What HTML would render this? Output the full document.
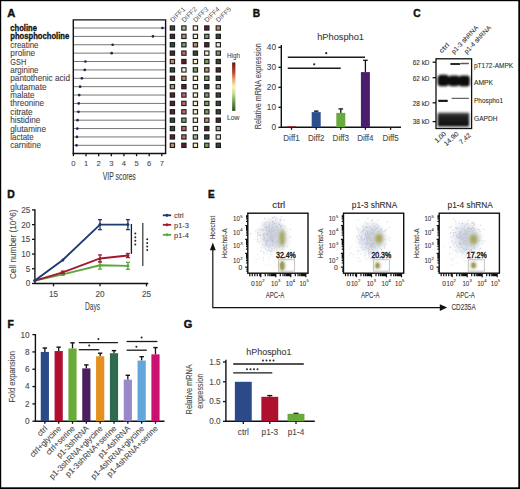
<!DOCTYPE html>
<html><head><meta charset="utf-8"><style>
html,body{margin:0;padding:0;background:#fff;}
body{width:520px;height:489px;overflow:hidden;}
svg{display:block;font-family:"Liberation Sans", sans-serif;}
</style></head><body>
<svg width="520" height="489" viewBox="0 0 520 489">
<rect x="0" y="0" width="520" height="489" fill="#fff"/>
<text x="7.30" y="16.70" font-size="11.2" fill="#111" font-weight="bold" stroke="#111" stroke-width="0.45" >A</text>
<text x="10.30" y="30.80" font-size="8.4" fill="#111" font-weight="bold" stroke="#111" stroke-width="0.3" textLength="26.6" lengthAdjust="spacingAndGlyphs" >choline</text>
<line x1="73.50" y1="28.00" x2="165.30" y2="28.00" stroke="#767676" stroke-width="1.0" />
<circle cx="162.44" cy="28.00" r="1.35" fill="#1e2a55"/>
<text x="10.30" y="39.18" font-size="8.4" fill="#111" font-weight="bold" stroke="#111" stroke-width="0.3" textLength="58.9" lengthAdjust="spacingAndGlyphs" >phosphocholine</text>
<line x1="73.50" y1="36.38" x2="165.30" y2="36.38" stroke="#767676" stroke-width="1.0" />
<circle cx="152.97" cy="36.38" r="1.35" fill="#1e2a55"/>
<text x="10.30" y="47.76" font-size="8.4" fill="#454545" stroke="#454545" stroke-width="0.1" textLength="28.2" lengthAdjust="spacingAndGlyphs" >creatine</text>
<line x1="73.50" y1="44.76" x2="165.30" y2="44.76" stroke="#767676" stroke-width="1.0" />
<circle cx="112.68" cy="44.76" r="1.35" fill="#1e2a55"/>
<text x="10.30" y="56.14" font-size="8.4" fill="#454545" stroke="#454545" stroke-width="0.1" textLength="24.8" lengthAdjust="spacingAndGlyphs" >proline</text>
<line x1="73.50" y1="53.14" x2="165.30" y2="53.14" stroke="#767676" stroke-width="1.0" />
<circle cx="111.67" cy="53.14" r="1.35" fill="#1e2a55"/>
<text x="10.30" y="64.52" font-size="8.4" fill="#454545" stroke="#454545" stroke-width="0.1" textLength="15.9" lengthAdjust="spacingAndGlyphs" >GSH</text>
<line x1="73.50" y1="61.52" x2="165.30" y2="61.52" stroke="#767676" stroke-width="1.0" />
<circle cx="85.40" cy="61.52" r="1.35" fill="#1e2a55"/>
<text x="10.30" y="72.90" font-size="8.4" fill="#454545" stroke="#454545" stroke-width="0.1" textLength="28.2" lengthAdjust="spacingAndGlyphs" >arginine</text>
<line x1="73.50" y1="69.90" x2="165.30" y2="69.90" stroke="#767676" stroke-width="1.0" />
<circle cx="84.77" cy="69.90" r="1.35" fill="#1e2a55"/>
<text x="10.30" y="81.28" font-size="8.4" fill="#454545" stroke="#454545" stroke-width="0.1" textLength="59.7" lengthAdjust="spacingAndGlyphs" >pantothenic acid</text>
<line x1="73.50" y1="78.28" x2="165.30" y2="78.28" stroke="#767676" stroke-width="1.0" />
<circle cx="81.86" cy="78.28" r="1.35" fill="#1e2a55"/>
<text x="10.30" y="89.66" font-size="8.4" fill="#454545" stroke="#454545" stroke-width="0.1" textLength="36.3" lengthAdjust="spacingAndGlyphs" >glutamate</text>
<line x1="73.50" y1="86.66" x2="165.30" y2="86.66" stroke="#767676" stroke-width="1.0" />
<circle cx="80.09" cy="86.66" r="1.35" fill="#1e2a55"/>
<text x="10.30" y="98.04" font-size="8.4" fill="#454545" stroke="#454545" stroke-width="0.1" textLength="24.1" lengthAdjust="spacingAndGlyphs" >malate</text>
<line x1="73.50" y1="95.04" x2="165.30" y2="95.04" stroke="#767676" stroke-width="1.0" />
<circle cx="79.21" cy="95.04" r="1.35" fill="#1e2a55"/>
<text x="10.30" y="106.42" font-size="8.4" fill="#454545" stroke="#454545" stroke-width="0.1" textLength="33.7" lengthAdjust="spacingAndGlyphs" >threonine</text>
<line x1="73.50" y1="103.42" x2="165.30" y2="103.42" stroke="#767676" stroke-width="1.0" />
<circle cx="78.70" cy="103.42" r="1.35" fill="#1e2a55"/>
<text x="10.30" y="114.80" font-size="8.4" fill="#454545" stroke="#454545" stroke-width="0.1" textLength="22.4" lengthAdjust="spacingAndGlyphs" >citrate</text>
<line x1="73.50" y1="111.80" x2="165.30" y2="111.80" stroke="#767676" stroke-width="1.0" />
<circle cx="78.45" cy="111.80" r="1.35" fill="#1e2a55"/>
<text x="10.30" y="123.18" font-size="8.4" fill="#454545" stroke="#454545" stroke-width="0.1" textLength="30.0" lengthAdjust="spacingAndGlyphs" >histidine</text>
<line x1="73.50" y1="120.18" x2="165.30" y2="120.18" stroke="#767676" stroke-width="1.0" />
<circle cx="77.57" cy="120.18" r="1.35" fill="#1e2a55"/>
<text x="10.30" y="131.56" font-size="8.4" fill="#454545" stroke="#454545" stroke-width="0.1" textLength="35.7" lengthAdjust="spacingAndGlyphs" >glutamine</text>
<line x1="73.50" y1="128.56" x2="165.30" y2="128.56" stroke="#767676" stroke-width="1.0" />
<circle cx="77.32" cy="128.56" r="1.35" fill="#1e2a55"/>
<text x="10.30" y="139.94" font-size="8.4" fill="#454545" stroke="#454545" stroke-width="0.1" textLength="23.4" lengthAdjust="spacingAndGlyphs" >lactate</text>
<line x1="73.50" y1="136.94" x2="165.30" y2="136.94" stroke="#767676" stroke-width="1.0" />
<circle cx="76.94" cy="136.94" r="1.35" fill="#1e2a55"/>
<text x="10.30" y="148.32" font-size="8.4" fill="#454545" stroke="#454545" stroke-width="0.1" textLength="30.6" lengthAdjust="spacingAndGlyphs" >carnitine</text>
<line x1="73.50" y1="145.32" x2="165.30" y2="145.32" stroke="#767676" stroke-width="1.0" />
<circle cx="76.56" cy="145.32" r="1.35" fill="#1e2a55"/>
<path d="M73.3 153.4 V19.9 H165.6 V153.4" fill="none" stroke="#111" stroke-width="1.4"/>
<line x1="72.60" y1="153.40" x2="166.30" y2="153.40" stroke="#111" stroke-width="1.5" />
<line x1="73.40" y1="153.40" x2="73.40" y2="156.20" stroke="#111" stroke-width="1.3" />
<text x="73.40" y="166.20" font-size="7.6" fill="#4a4a4a" stroke="#4a4a4a" stroke-width="0.1" text-anchor="middle" >0</text>
<line x1="86.03" y1="153.40" x2="86.03" y2="156.20" stroke="#111" stroke-width="1.3" />
<text x="86.03" y="166.20" font-size="7.6" fill="#4a4a4a" stroke="#4a4a4a" stroke-width="0.1" text-anchor="middle" >1</text>
<line x1="98.66" y1="153.40" x2="98.66" y2="156.20" stroke="#111" stroke-width="1.3" />
<text x="98.66" y="166.20" font-size="7.6" fill="#4a4a4a" stroke="#4a4a4a" stroke-width="0.1" text-anchor="middle" >2</text>
<line x1="111.29" y1="153.40" x2="111.29" y2="156.20" stroke="#111" stroke-width="1.3" />
<text x="111.29" y="166.20" font-size="7.6" fill="#4a4a4a" stroke="#4a4a4a" stroke-width="0.1" text-anchor="middle" >3</text>
<line x1="123.92" y1="153.40" x2="123.92" y2="156.20" stroke="#111" stroke-width="1.3" />
<text x="123.92" y="166.20" font-size="7.6" fill="#4a4a4a" stroke="#4a4a4a" stroke-width="0.1" text-anchor="middle" >4</text>
<line x1="136.55" y1="153.40" x2="136.55" y2="156.20" stroke="#111" stroke-width="1.3" />
<text x="136.55" y="166.20" font-size="7.6" fill="#4a4a4a" stroke="#4a4a4a" stroke-width="0.1" text-anchor="middle" >5</text>
<line x1="149.18" y1="153.40" x2="149.18" y2="156.20" stroke="#111" stroke-width="1.3" />
<text x="149.18" y="166.20" font-size="7.6" fill="#4a4a4a" stroke="#4a4a4a" stroke-width="0.1" text-anchor="middle" >6</text>
<line x1="161.81" y1="153.40" x2="161.81" y2="156.20" stroke="#111" stroke-width="1.3" />
<text x="161.81" y="166.20" font-size="7.6" fill="#4a4a4a" stroke="#4a4a4a" stroke-width="0.1" text-anchor="middle" >7</text>
<text x="102.80" y="179.60" font-size="10.0" fill="#3c3c3c" stroke="#3c3c3c" stroke-width="0.1" textLength="33.0" lengthAdjust="spacingAndGlyphs" >VIP scores</text>
<rect x="169.70" y="25.30" width="5.40" height="5.40" fill="#1c1c1c" />
<rect x="170.80" y="26.40" width="3.20" height="3.20" fill="#34473a" />
<rect x="181.20" y="25.30" width="5.40" height="5.40" fill="#1c1c1c" />
<rect x="182.30" y="26.40" width="3.20" height="3.20" fill="#a0b28a" />
<rect x="192.70" y="25.30" width="5.40" height="5.40" fill="#1c1c1c" />
<rect x="193.80" y="26.40" width="3.20" height="3.20" fill="#f4f0cc" />
<rect x="204.10" y="25.30" width="5.40" height="5.40" fill="#1c1c1c" />
<rect x="205.20" y="26.40" width="3.20" height="3.20" fill="#5e1e2e" />
<rect x="215.60" y="25.30" width="5.40" height="5.40" fill="#1c1c1c" />
<rect x="216.70" y="26.40" width="3.20" height="3.20" fill="#bc8c6c" />
<rect x="169.70" y="33.68" width="5.40" height="5.40" fill="#1c1c1c" />
<rect x="170.80" y="34.78" width="3.20" height="3.20" fill="#5e1e2e" />
<rect x="181.20" y="33.68" width="5.40" height="5.40" fill="#1c1c1c" />
<rect x="182.30" y="34.78" width="3.20" height="3.20" fill="#bc8c6c" />
<rect x="192.70" y="33.68" width="5.40" height="5.40" fill="#1c1c1c" />
<rect x="193.80" y="34.78" width="3.20" height="3.20" fill="#f4f0cc" />
<rect x="204.10" y="33.68" width="5.40" height="5.40" fill="#1c1c1c" />
<rect x="205.20" y="34.78" width="3.20" height="3.20" fill="#7a9e5e" />
<rect x="215.60" y="33.68" width="5.40" height="5.40" fill="#1c1c1c" />
<rect x="216.70" y="34.78" width="3.20" height="3.20" fill="#34473a" />
<rect x="169.70" y="42.06" width="5.40" height="5.40" fill="#1c1c1c" />
<rect x="170.80" y="43.16" width="3.20" height="3.20" fill="#34473a" />
<rect x="181.20" y="42.06" width="5.40" height="5.40" fill="#1c1c1c" />
<rect x="182.30" y="43.16" width="3.20" height="3.20" fill="#7a9e5e" />
<rect x="192.70" y="42.06" width="5.40" height="5.40" fill="#1c1c1c" />
<rect x="193.80" y="43.16" width="3.20" height="3.20" fill="#bc8c6c" />
<rect x="204.10" y="42.06" width="5.40" height="5.40" fill="#1c1c1c" />
<rect x="205.20" y="43.16" width="3.20" height="3.20" fill="#5e1e2e" />
<rect x="215.60" y="42.06" width="5.40" height="5.40" fill="#1c1c1c" />
<rect x="216.70" y="43.16" width="3.20" height="3.20" fill="#f4f0cc" />
<rect x="169.70" y="50.44" width="5.40" height="5.40" fill="#1c1c1c" />
<rect x="170.80" y="51.54" width="3.20" height="3.20" fill="#5e1e2e" />
<rect x="181.20" y="50.44" width="5.40" height="5.40" fill="#1c1c1c" />
<rect x="182.30" y="51.54" width="3.20" height="3.20" fill="#b86a6a" />
<rect x="192.70" y="50.44" width="5.40" height="5.40" fill="#1c1c1c" />
<rect x="193.80" y="51.54" width="3.20" height="3.20" fill="#34473a" />
<rect x="204.10" y="50.44" width="5.40" height="5.40" fill="#1c1c1c" />
<rect x="205.20" y="51.54" width="3.20" height="3.20" fill="#f4f0cc" />
<rect x="215.60" y="50.44" width="5.40" height="5.40" fill="#1c1c1c" />
<rect x="216.70" y="51.54" width="3.20" height="3.20" fill="#7a9e5e" />
<rect x="169.70" y="58.82" width="5.40" height="5.40" fill="#1c1c1c" />
<rect x="170.80" y="59.92" width="3.20" height="3.20" fill="#bc8c6c" />
<rect x="181.20" y="58.82" width="5.40" height="5.40" fill="#1c1c1c" />
<rect x="182.30" y="59.92" width="3.20" height="3.20" fill="#5e1e2e" />
<rect x="192.70" y="58.82" width="5.40" height="5.40" fill="#1c1c1c" />
<rect x="193.80" y="59.92" width="3.20" height="3.20" fill="#f4f0cc" />
<rect x="204.10" y="58.82" width="5.40" height="5.40" fill="#1c1c1c" />
<rect x="205.20" y="59.92" width="3.20" height="3.20" fill="#7a9e5e" />
<rect x="215.60" y="58.82" width="5.40" height="5.40" fill="#1c1c1c" />
<rect x="216.70" y="59.92" width="3.20" height="3.20" fill="#34473a" />
<rect x="169.70" y="67.20" width="5.40" height="5.40" fill="#1c1c1c" />
<rect x="170.80" y="68.30" width="3.20" height="3.20" fill="#34473a" />
<rect x="181.20" y="67.20" width="5.40" height="5.40" fill="#1c1c1c" />
<rect x="182.30" y="68.30" width="3.20" height="3.20" fill="#f4f0cc" />
<rect x="192.70" y="67.20" width="5.40" height="5.40" fill="#1c1c1c" />
<rect x="193.80" y="68.30" width="3.20" height="3.20" fill="#7a9e5e" />
<rect x="204.10" y="67.20" width="5.40" height="5.40" fill="#1c1c1c" />
<rect x="205.20" y="68.30" width="3.20" height="3.20" fill="#bc8c6c" />
<rect x="215.60" y="67.20" width="5.40" height="5.40" fill="#1c1c1c" />
<rect x="216.70" y="68.30" width="3.20" height="3.20" fill="#5e1e2e" />
<rect x="169.70" y="75.58" width="5.40" height="5.40" fill="#1c1c1c" />
<rect x="170.80" y="76.68" width="3.20" height="3.20" fill="#5e1e2e" />
<rect x="181.20" y="75.58" width="5.40" height="5.40" fill="#1c1c1c" />
<rect x="182.30" y="76.68" width="3.20" height="3.20" fill="#bc8c6c" />
<rect x="192.70" y="75.58" width="5.40" height="5.40" fill="#1c1c1c" />
<rect x="193.80" y="76.68" width="3.20" height="3.20" fill="#f4f0cc" />
<rect x="204.10" y="75.58" width="5.40" height="5.40" fill="#1c1c1c" />
<rect x="205.20" y="76.68" width="3.20" height="3.20" fill="#7a9e5e" />
<rect x="215.60" y="75.58" width="5.40" height="5.40" fill="#1c1c1c" />
<rect x="216.70" y="76.68" width="3.20" height="3.20" fill="#34473a" />
<rect x="169.70" y="83.96" width="5.40" height="5.40" fill="#1c1c1c" />
<rect x="170.80" y="85.06" width="3.20" height="3.20" fill="#bc8c6c" />
<rect x="181.20" y="83.96" width="5.40" height="5.40" fill="#1c1c1c" />
<rect x="182.30" y="85.06" width="3.20" height="3.20" fill="#5e1e2e" />
<rect x="192.70" y="83.96" width="5.40" height="5.40" fill="#1c1c1c" />
<rect x="193.80" y="85.06" width="3.20" height="3.20" fill="#f4f0cc" />
<rect x="204.10" y="83.96" width="5.40" height="5.40" fill="#1c1c1c" />
<rect x="205.20" y="85.06" width="3.20" height="3.20" fill="#34473a" />
<rect x="215.60" y="83.96" width="5.40" height="5.40" fill="#1c1c1c" />
<rect x="216.70" y="85.06" width="3.20" height="3.20" fill="#a0b28a" />
<rect x="169.70" y="92.34" width="5.40" height="5.40" fill="#1c1c1c" />
<rect x="170.80" y="93.44" width="3.20" height="3.20" fill="#5e1e2e" />
<rect x="181.20" y="92.34" width="5.40" height="5.40" fill="#1c1c1c" />
<rect x="182.30" y="93.44" width="3.20" height="3.20" fill="#b86a6a" />
<rect x="192.70" y="92.34" width="5.40" height="5.40" fill="#1c1c1c" />
<rect x="193.80" y="93.44" width="3.20" height="3.20" fill="#f4f0cc" />
<rect x="204.10" y="92.34" width="5.40" height="5.40" fill="#1c1c1c" />
<rect x="205.20" y="93.44" width="3.20" height="3.20" fill="#7a9e5e" />
<rect x="215.60" y="92.34" width="5.40" height="5.40" fill="#1c1c1c" />
<rect x="216.70" y="93.44" width="3.20" height="3.20" fill="#34473a" />
<rect x="169.70" y="100.72" width="5.40" height="5.40" fill="#1c1c1c" />
<rect x="170.80" y="101.82" width="3.20" height="3.20" fill="#5e1e2e" />
<rect x="181.20" y="100.72" width="5.40" height="5.40" fill="#1c1c1c" />
<rect x="182.30" y="101.82" width="3.20" height="3.20" fill="#b86a6a" />
<rect x="192.70" y="100.72" width="5.40" height="5.40" fill="#1c1c1c" />
<rect x="193.80" y="101.82" width="3.20" height="3.20" fill="#f4f0cc" />
<rect x="204.10" y="100.72" width="5.40" height="5.40" fill="#1c1c1c" />
<rect x="205.20" y="101.82" width="3.20" height="3.20" fill="#7a9e5e" />
<rect x="215.60" y="100.72" width="5.40" height="5.40" fill="#1c1c1c" />
<rect x="216.70" y="101.82" width="3.20" height="3.20" fill="#34473a" />
<rect x="169.70" y="109.10" width="5.40" height="5.40" fill="#1c1c1c" />
<rect x="170.80" y="110.20" width="3.20" height="3.20" fill="#5e1e2e" />
<rect x="181.20" y="109.10" width="5.40" height="5.40" fill="#1c1c1c" />
<rect x="182.30" y="110.20" width="3.20" height="3.20" fill="#b86a6a" />
<rect x="192.70" y="109.10" width="5.40" height="5.40" fill="#1c1c1c" />
<rect x="193.80" y="110.20" width="3.20" height="3.20" fill="#f4f0cc" />
<rect x="204.10" y="109.10" width="5.40" height="5.40" fill="#1c1c1c" />
<rect x="205.20" y="110.20" width="3.20" height="3.20" fill="#7a9e5e" />
<rect x="215.60" y="109.10" width="5.40" height="5.40" fill="#1c1c1c" />
<rect x="216.70" y="110.20" width="3.20" height="3.20" fill="#34473a" />
<rect x="169.70" y="117.48" width="5.40" height="5.40" fill="#1c1c1c" />
<rect x="170.80" y="118.58" width="3.20" height="3.20" fill="#34473a" />
<rect x="181.20" y="117.48" width="5.40" height="5.40" fill="#1c1c1c" />
<rect x="182.30" y="118.58" width="3.20" height="3.20" fill="#7a9e5e" />
<rect x="192.70" y="117.48" width="5.40" height="5.40" fill="#1c1c1c" />
<rect x="193.80" y="118.58" width="3.20" height="3.20" fill="#f4f0cc" />
<rect x="204.10" y="117.48" width="5.40" height="5.40" fill="#1c1c1c" />
<rect x="205.20" y="118.58" width="3.20" height="3.20" fill="#bc8c6c" />
<rect x="215.60" y="117.48" width="5.40" height="5.40" fill="#1c1c1c" />
<rect x="216.70" y="118.58" width="3.20" height="3.20" fill="#5e1e2e" />
<rect x="169.70" y="125.86" width="5.40" height="5.40" fill="#1c1c1c" />
<rect x="170.80" y="126.96" width="3.20" height="3.20" fill="#34473a" />
<rect x="181.20" y="125.86" width="5.40" height="5.40" fill="#1c1c1c" />
<rect x="182.30" y="126.96" width="3.20" height="3.20" fill="#b86a6a" />
<rect x="192.70" y="125.86" width="5.40" height="5.40" fill="#1c1c1c" />
<rect x="193.80" y="126.96" width="3.20" height="3.20" fill="#f4f0cc" />
<rect x="204.10" y="125.86" width="5.40" height="5.40" fill="#1c1c1c" />
<rect x="205.20" y="126.96" width="3.20" height="3.20" fill="#5e1e2e" />
<rect x="215.60" y="125.86" width="5.40" height="5.40" fill="#1c1c1c" />
<rect x="216.70" y="126.96" width="3.20" height="3.20" fill="#a0b28a" />
<rect x="169.70" y="134.24" width="5.40" height="5.40" fill="#1c1c1c" />
<rect x="170.80" y="135.34" width="3.20" height="3.20" fill="#5e1e2e" />
<rect x="181.20" y="134.24" width="5.40" height="5.40" fill="#1c1c1c" />
<rect x="182.30" y="135.34" width="3.20" height="3.20" fill="#b86a6a" />
<rect x="192.70" y="134.24" width="5.40" height="5.40" fill="#1c1c1c" />
<rect x="193.80" y="135.34" width="3.20" height="3.20" fill="#a0b28a" />
<rect x="204.10" y="134.24" width="5.40" height="5.40" fill="#1c1c1c" />
<rect x="205.20" y="135.34" width="3.20" height="3.20" fill="#34473a" />
<rect x="215.60" y="134.24" width="5.40" height="5.40" fill="#1c1c1c" />
<rect x="216.70" y="135.34" width="3.20" height="3.20" fill="#f4f0cc" />
<rect x="169.70" y="142.62" width="5.40" height="5.40" fill="#1c1c1c" />
<rect x="170.80" y="143.72" width="3.20" height="3.20" fill="#bc8c6c" />
<rect x="181.20" y="142.62" width="5.40" height="5.40" fill="#1c1c1c" />
<rect x="182.30" y="143.72" width="3.20" height="3.20" fill="#5e1e2e" />
<rect x="192.70" y="142.62" width="5.40" height="5.40" fill="#1c1c1c" />
<rect x="193.80" y="143.72" width="3.20" height="3.20" fill="#f4f0cc" />
<rect x="204.10" y="142.62" width="5.40" height="5.40" fill="#1c1c1c" />
<rect x="205.20" y="143.72" width="3.20" height="3.20" fill="#7a9e5e" />
<rect x="215.60" y="142.62" width="5.40" height="5.40" fill="#1c1c1c" />
<rect x="216.70" y="143.72" width="3.20" height="3.20" fill="#34473a" />
<text x="172.70" y="22.80" font-size="6.6" fill="#505050" textLength="18.5" lengthAdjust="spacingAndGlyphs" transform="rotate(-45 172.70 22.80)" >DIFF1</text>
<text x="184.20" y="22.80" font-size="6.6" fill="#505050" textLength="18.5" lengthAdjust="spacingAndGlyphs" transform="rotate(-45 184.20 22.80)" >DIFF2</text>
<text x="195.70" y="22.80" font-size="6.6" fill="#505050" textLength="18.5" lengthAdjust="spacingAndGlyphs" transform="rotate(-45 195.70 22.80)" >DIFF3</text>
<text x="207.10" y="22.80" font-size="6.6" fill="#505050" textLength="18.5" lengthAdjust="spacingAndGlyphs" transform="rotate(-45 207.10 22.80)" >DIFF4</text>
<text x="218.60" y="22.80" font-size="6.6" fill="#505050" textLength="18.5" lengthAdjust="spacingAndGlyphs" transform="rotate(-45 218.60 22.80)" >DIFF5</text>
<text x="227.00" y="57.90" font-size="7.2" fill="#4a4a4a" stroke="#4a4a4a" stroke-width="0.1" textLength="12.9" lengthAdjust="spacingAndGlyphs" >High</text>
<text x="227.00" y="119.60" font-size="7.2" fill="#4a4a4a" stroke="#4a4a4a" stroke-width="0.1" textLength="12.5" lengthAdjust="spacingAndGlyphs" >Low</text>
<defs><linearGradient id="hl" x1="0" y1="0" x2="0" y2="1"><stop offset="0" stop-color="#6e1414"/><stop offset="0.2" stop-color="#b8442a"/><stop offset="0.35" stop-color="#e8a870"/><stop offset="0.5" stop-color="#f8f2c0"/><stop offset="0.65" stop-color="#c8d890"/><stop offset="0.82" stop-color="#6a9a4a"/><stop offset="1" stop-color="#2c5030"/></linearGradient></defs>
<rect x="232.10" y="62.50" width="3.30" height="48.40" fill="url(#hl)" />
<text x="252.80" y="16.60" font-size="10.2" fill="#111" font-weight="bold" stroke="#111" stroke-width="0.45" >B</text>
<text x="317.20" y="39.50" font-size="9" fill="#3c3c3c" stroke="#3c3c3c" stroke-width="0.1" textLength="46.8" lengthAdjust="spacingAndGlyphs" >hPhospho1</text>
<line x1="281.30" y1="45.00" x2="281.30" y2="127.80" stroke="#111" stroke-width="1.4" />
<line x1="278.40" y1="127.30" x2="281.30" y2="127.30" stroke="#111" stroke-width="1.3" />
<text x="276.00" y="130.20" font-size="8.3" fill="#4a4a4a" stroke="#4a4a4a" stroke-width="0.1" text-anchor="end" >0</text>
<line x1="278.40" y1="107.30" x2="281.30" y2="107.30" stroke="#111" stroke-width="1.3" />
<text x="276.00" y="110.20" font-size="8.3" fill="#4a4a4a" stroke="#4a4a4a" stroke-width="0.1" text-anchor="end" >10</text>
<line x1="278.40" y1="87.30" x2="281.30" y2="87.30" stroke="#111" stroke-width="1.3" />
<text x="276.00" y="90.20" font-size="8.3" fill="#4a4a4a" stroke="#4a4a4a" stroke-width="0.1" text-anchor="end" >20</text>
<line x1="278.40" y1="67.30" x2="281.30" y2="67.30" stroke="#111" stroke-width="1.3" />
<text x="276.00" y="70.20" font-size="8.3" fill="#4a4a4a" stroke="#4a4a4a" stroke-width="0.1" text-anchor="end" >30</text>
<line x1="278.40" y1="47.30" x2="281.30" y2="47.30" stroke="#111" stroke-width="1.3" />
<text x="276.00" y="50.20" font-size="8.3" fill="#4a4a4a" stroke="#4a4a4a" stroke-width="0.1" text-anchor="end" >40</text>
<line x1="280.80" y1="127.30" x2="401.00" y2="127.30" stroke="#111" stroke-width="1.5" />
<text x="260.70" y="86.30" font-size="8.5" fill="#4a4a4a" stroke="#4a4a4a" stroke-width="0.1" text-anchor="middle" textLength="86.0" lengthAdjust="spacingAndGlyphs" transform="rotate(-90 260.70 86.30)" >Relative mRNA expression</text>
<rect x="287.00" y="126.30" width="9.00" height="1.00" fill="#a3182c" />
<line x1="291.50" y1="127.30" x2="291.50" y2="129.80" stroke="#111" stroke-width="1.3" />
<text x="291.50" y="140.70" font-size="8.9" fill="#4a4a4a" stroke="#4a4a4a" stroke-width="0.1" text-anchor="middle" textLength="16.4" lengthAdjust="spacingAndGlyphs" >Diff1</text>
<line x1="316.20" y1="111.10" x2="316.20" y2="112.10" stroke="#111" stroke-width="1.3" />
<line x1="313.90" y1="111.10" x2="318.50" y2="111.10" stroke="#111" stroke-width="1.3" />
<rect x="311.70" y="112.10" width="9.00" height="15.20" fill="#2d4f8c" />
<line x1="316.20" y1="127.30" x2="316.20" y2="129.80" stroke="#111" stroke-width="1.3" />
<text x="316.20" y="140.70" font-size="8.9" fill="#4a4a4a" stroke="#4a4a4a" stroke-width="0.1" text-anchor="middle" textLength="16.4" lengthAdjust="spacingAndGlyphs" >Diff2</text>
<line x1="340.80" y1="108.90" x2="340.80" y2="112.90" stroke="#111" stroke-width="1.3" />
<line x1="338.50" y1="108.90" x2="343.10" y2="108.90" stroke="#111" stroke-width="1.3" />
<rect x="336.30" y="112.90" width="9.00" height="14.40" fill="#6aaa3c" />
<line x1="340.80" y1="127.30" x2="340.80" y2="129.80" stroke="#111" stroke-width="1.3" />
<text x="340.80" y="140.70" font-size="8.9" fill="#4a4a4a" stroke="#4a4a4a" stroke-width="0.1" text-anchor="middle" textLength="16.4" lengthAdjust="spacingAndGlyphs" >Diff3</text>
<line x1="365.40" y1="60.30" x2="365.40" y2="72.10" stroke="#111" stroke-width="1.3" />
<line x1="363.10" y1="60.30" x2="367.70" y2="60.30" stroke="#111" stroke-width="1.3" />
<rect x="360.90" y="72.10" width="9.00" height="55.20" fill="#4a1e6c" />
<line x1="365.40" y1="127.30" x2="365.40" y2="129.80" stroke="#111" stroke-width="1.3" />
<text x="365.40" y="140.70" font-size="8.9" fill="#4a4a4a" stroke="#4a4a4a" stroke-width="0.1" text-anchor="middle" textLength="16.4" lengthAdjust="spacingAndGlyphs" >Diff4</text>
<rect x="386.10" y="127.20" width="9.00" height="0.10" fill="#777" />
<line x1="390.60" y1="127.30" x2="390.60" y2="129.80" stroke="#111" stroke-width="1.3" />
<text x="390.60" y="140.70" font-size="8.9" fill="#4a4a4a" stroke="#4a4a4a" stroke-width="0.1" text-anchor="middle" textLength="16.4" lengthAdjust="spacingAndGlyphs" >Diff5</text>
<line x1="287.80" y1="57.20" x2="365.00" y2="57.20" stroke="#1a1a1a" stroke-width="1.4" />
<line x1="287.80" y1="68.20" x2="340.70" y2="68.20" stroke="#1a1a1a" stroke-width="1.4" />
<circle cx="326.2" cy="53.2" r="1.1" fill="#222"/>
<circle cx="314.2" cy="64.3" r="1.1" fill="#222"/>
<text x="413.20" y="17.20" font-size="10.2" fill="#111" font-weight="bold" stroke="#111" stroke-width="0.45" >C</text>
<defs><filter id="bl" x="-20%" y="-50%" width="140%" height="200%"><feGaussianBlur stdDeviation="0.9"/></filter><filter id="bl2" x="-20%" y="-50%" width="140%" height="200%"><feGaussianBlur stdDeviation="0.5"/></filter><filter id="bl3" x="-50%" y="-50%" width="200%" height="200%"><feGaussianBlur stdDeviation="2.5"/></filter><linearGradient id="gap" x1="0" y1="0" x2="0" y2="1"><stop offset="0" stop-color="#6a6a6a"/><stop offset="0.2" stop-color="#262626"/><stop offset="1" stop-color="#0c0c0c"/></linearGradient></defs>
<g filter="url(#bl2)">
<rect x="450.2" y="62.9" width="10.2" height="2.0" rx="1.0" fill="#2a2a2a"/>
<rect x="460.2" y="62.7" width="8.8" height="1.6" rx="0.8" fill="#5a5a5a"/>
<rect x="438" y="99.7" width="10" height="2.2" rx="1.1" fill="#1e1e1e"/>
<rect x="451.5" y="97.7" width="17.5" height="1.4" rx="0.7" fill="#666"/>
</g>
<g filter="url(#bl)">
<rect x="437.6" y="74.8" width="11.4" height="11.4" rx="3.5" fill="#0a0a0a"/>
<rect x="448.6" y="75.6" width="10.8" height="10.6" rx="3" fill="#0e0e0e"/>
<rect x="458.8" y="75.6" width="11" height="11" rx="3" fill="#101010"/>
<rect x="437.6" y="112.4" width="31.6" height="14.2" rx="1" fill="url(#gap)"/>
</g>
<rect x="436" y="58.8" width="35.6" height="69.7" fill="none" stroke="#111" stroke-width="1.3"/>
<line x1="432.60" y1="62.20" x2="436.00" y2="62.20" stroke="#111" stroke-width="1.3" />
<text x="429.50" y="65.00" font-size="8.0" fill="#2e2e2e" stroke="#2e2e2e" stroke-width="0.1" text-anchor="end" textLength="16.8" lengthAdjust="spacingAndGlyphs" >62 kD</text>
<line x1="432.60" y1="77.70" x2="436.00" y2="77.70" stroke="#111" stroke-width="1.3" />
<text x="429.50" y="80.50" font-size="8.0" fill="#2e2e2e" stroke="#2e2e2e" stroke-width="0.1" text-anchor="end" textLength="16.8" lengthAdjust="spacingAndGlyphs" >62 kD</text>
<line x1="432.60" y1="102.80" x2="436.00" y2="102.80" stroke="#111" stroke-width="1.3" />
<text x="429.50" y="105.60" font-size="8.0" fill="#2e2e2e" stroke="#2e2e2e" stroke-width="0.1" text-anchor="end" textLength="16.8" lengthAdjust="spacingAndGlyphs" >28 kD</text>
<line x1="432.60" y1="121.60" x2="436.00" y2="121.60" stroke="#111" stroke-width="1.3" />
<text x="429.50" y="124.40" font-size="8.0" fill="#2e2e2e" stroke="#2e2e2e" stroke-width="0.1" text-anchor="end" textLength="16.8" lengthAdjust="spacingAndGlyphs" >38 kD</text>
<text x="474.00" y="67.90" font-size="8.0" fill="#2e2e2e" stroke="#2e2e2e" stroke-width="0.1" textLength="39.1" lengthAdjust="spacingAndGlyphs" >pT172-AMPK</text>
<text x="474.00" y="85.20" font-size="8.0" fill="#2e2e2e" stroke="#2e2e2e" stroke-width="0.1" textLength="19" lengthAdjust="spacingAndGlyphs" >AMPK</text>
<text x="474.00" y="102.60" font-size="8.0" fill="#2e2e2e" stroke="#2e2e2e" stroke-width="0.1" textLength="29" lengthAdjust="spacingAndGlyphs" >Phospho1</text>
<text x="474.00" y="120.60" font-size="8.0" fill="#2e2e2e" stroke="#2e2e2e" stroke-width="0.1" textLength="23.6" lengthAdjust="spacingAndGlyphs" >GAPDH</text>
<text x="441.80" y="53.60" font-size="6.6" fill="#383838" stroke="#383838" stroke-width="0.1" textLength="11.5" lengthAdjust="spacingAndGlyphs" transform="rotate(-46.5 441.80 53.60)" >ctrl</text>
<text x="453.90" y="54.20" font-size="6.6" fill="#383838" stroke="#383838" stroke-width="0.1" textLength="36" lengthAdjust="spacingAndGlyphs" transform="rotate(-46.5 453.90 54.20)" >p1-3 shRNA</text>
<text x="466.70" y="54.20" font-size="6.6" fill="#383838" stroke="#383838" stroke-width="0.1" textLength="36" lengthAdjust="spacingAndGlyphs" transform="rotate(-46.5 466.70 54.20)" >p1-4 shRNA</text>
<text x="436.90" y="143.30" font-size="6.6" fill="#383838" stroke="#383838" stroke-width="0.1" textLength="13.0" lengthAdjust="spacingAndGlyphs" transform="rotate(-42 436.90 143.30)" >1.00</text>
<text x="446.20" y="146.30" font-size="6.6" fill="#383838" stroke="#383838" stroke-width="0.1" textLength="17.4" lengthAdjust="spacingAndGlyphs" transform="rotate(-42 446.20 146.30)" >14.90</text>
<text x="461.60" y="144.80" font-size="6.6" fill="#383838" stroke="#383838" stroke-width="0.1" textLength="13.2" lengthAdjust="spacingAndGlyphs" transform="rotate(-42 461.60 144.80)" >7.42</text>
<text x="7.20" y="198.00" font-size="10.4" fill="#111" font-weight="bold" stroke="#111" stroke-width="0.45" >D</text>
<line x1="34.90" y1="209.20" x2="34.90" y2="284.10" stroke="#111" stroke-width="1.4" />
<line x1="32.00" y1="283.50" x2="34.90" y2="283.50" stroke="#111" stroke-width="1.3" />
<text x="30.40" y="286.40" font-size="8.2" fill="#4a4a4a" stroke="#4a4a4a" stroke-width="0.1" text-anchor="end" >0</text>
<line x1="32.00" y1="268.78" x2="34.90" y2="268.78" stroke="#111" stroke-width="1.3" />
<text x="30.40" y="271.68" font-size="8.2" fill="#4a4a4a" stroke="#4a4a4a" stroke-width="0.1" text-anchor="end" >5</text>
<line x1="32.00" y1="254.06" x2="34.90" y2="254.06" stroke="#111" stroke-width="1.3" />
<text x="30.40" y="256.96" font-size="8.2" fill="#4a4a4a" stroke="#4a4a4a" stroke-width="0.1" text-anchor="end" >10</text>
<line x1="32.00" y1="239.34" x2="34.90" y2="239.34" stroke="#111" stroke-width="1.3" />
<text x="30.40" y="242.24" font-size="8.2" fill="#4a4a4a" stroke="#4a4a4a" stroke-width="0.1" text-anchor="end" >15</text>
<line x1="32.00" y1="224.62" x2="34.90" y2="224.62" stroke="#111" stroke-width="1.3" />
<text x="30.40" y="227.52" font-size="8.2" fill="#4a4a4a" stroke="#4a4a4a" stroke-width="0.1" text-anchor="end" >20</text>
<line x1="32.00" y1="209.90" x2="34.90" y2="209.90" stroke="#111" stroke-width="1.3" />
<text x="30.40" y="212.80" font-size="8.2" fill="#4a4a4a" stroke="#4a4a4a" stroke-width="0.1" text-anchor="end" >25</text>
<line x1="34.30" y1="283.50" x2="148.30" y2="283.50" stroke="#111" stroke-width="1.5" />
<line x1="53.50" y1="283.50" x2="53.50" y2="286.30" stroke="#111" stroke-width="1.3" />
<text x="53.50" y="297.00" font-size="8.2" fill="#4a4a4a" stroke="#4a4a4a" stroke-width="0.1" text-anchor="middle" >15</text>
<line x1="100.00" y1="283.50" x2="100.00" y2="286.30" stroke="#111" stroke-width="1.3" />
<text x="100.00" y="297.00" font-size="8.2" fill="#4a4a4a" stroke="#4a4a4a" stroke-width="0.1" text-anchor="middle" >20</text>
<line x1="146.50" y1="283.50" x2="146.50" y2="286.30" stroke="#111" stroke-width="1.3" />
<text x="146.50" y="297.00" font-size="8.2" fill="#4a4a4a" stroke="#4a4a4a" stroke-width="0.1" text-anchor="middle" >25</text>
<text x="92.60" y="309.70" font-size="10.8" fill="#4a4a4a" stroke="#4a4a4a" stroke-width="0.1" text-anchor="middle" textLength="15.2" lengthAdjust="spacingAndGlyphs" >Days</text>
<text x="15.60" y="244.20" font-size="8.2" fill="#4a4a4a" stroke="#4a4a4a" stroke-width="0.1" text-anchor="middle" textLength="69.5" lengthAdjust="spacingAndGlyphs" transform="rotate(-90 15.60 244.20)" >Cell number (10^6)</text>
<path d="M34.90 280.56 L62.80 274.37 L100.00 265.25 L127.90 265.84" fill="none" stroke="#5aa83c" stroke-width="1.9"/>
<circle cx="34.90" cy="280.56" r="1.5" fill="#5aa83c"/>
<line x1="62.80" y1="273.49" x2="62.80" y2="275.26" stroke="#5aa83c" stroke-width="1.3" />
<line x1="60.80" y1="273.49" x2="64.80" y2="273.49" stroke="#5aa83c" stroke-width="1.3" />
<line x1="60.80" y1="275.26" x2="64.80" y2="275.26" stroke="#5aa83c" stroke-width="1.3" />
<circle cx="62.80" cy="274.37" r="1.5" fill="#5aa83c"/>
<line x1="100.00" y1="261.42" x2="100.00" y2="269.07" stroke="#5aa83c" stroke-width="1.3" />
<line x1="98.00" y1="261.42" x2="102.00" y2="261.42" stroke="#5aa83c" stroke-width="1.3" />
<line x1="98.00" y1="269.07" x2="102.00" y2="269.07" stroke="#5aa83c" stroke-width="1.3" />
<circle cx="100.00" cy="265.25" r="1.5" fill="#5aa83c"/>
<line x1="127.90" y1="262.30" x2="127.90" y2="269.37" stroke="#5aa83c" stroke-width="1.3" />
<line x1="125.90" y1="262.30" x2="129.90" y2="262.30" stroke="#5aa83c" stroke-width="1.3" />
<line x1="125.90" y1="269.37" x2="129.90" y2="269.37" stroke="#5aa83c" stroke-width="1.3" />
<circle cx="127.90" cy="265.84" r="1.5" fill="#5aa83c"/>
<path d="M34.90 280.56 L62.80 272.31 L100.00 258.48 L127.90 255.53" fill="none" stroke="#a21a30" stroke-width="1.9"/>
<circle cx="34.90" cy="280.56" r="1.5" fill="#a21a30"/>
<line x1="62.80" y1="271.14" x2="62.80" y2="273.49" stroke="#a21a30" stroke-width="1.3" />
<line x1="60.80" y1="271.14" x2="64.80" y2="271.14" stroke="#a21a30" stroke-width="1.3" />
<line x1="60.80" y1="273.49" x2="64.80" y2="273.49" stroke="#a21a30" stroke-width="1.3" />
<circle cx="62.80" cy="272.31" r="1.5" fill="#a21a30"/>
<line x1="100.00" y1="254.94" x2="100.00" y2="262.01" stroke="#a21a30" stroke-width="1.3" />
<line x1="98.00" y1="254.94" x2="102.00" y2="254.94" stroke="#a21a30" stroke-width="1.3" />
<line x1="98.00" y1="262.01" x2="102.00" y2="262.01" stroke="#a21a30" stroke-width="1.3" />
<circle cx="100.00" cy="258.48" r="1.5" fill="#a21a30"/>
<line x1="127.90" y1="253.47" x2="127.90" y2="257.59" stroke="#a21a30" stroke-width="1.3" />
<line x1="125.90" y1="253.47" x2="129.90" y2="253.47" stroke="#a21a30" stroke-width="1.3" />
<line x1="125.90" y1="257.59" x2="129.90" y2="257.59" stroke="#a21a30" stroke-width="1.3" />
<circle cx="127.90" cy="255.53" r="1.5" fill="#a21a30"/>
<path d="M34.90 280.56 L62.80 259.95 L100.00 224.62 L127.90 224.62" fill="none" stroke="#1f3a6e" stroke-width="1.9"/>
<circle cx="34.90" cy="280.56" r="1.5" fill="#1f3a6e"/>
<circle cx="62.80" cy="259.95" r="1.5" fill="#1f3a6e"/>
<line x1="100.00" y1="219.62" x2="100.00" y2="229.62" stroke="#1f3a6e" stroke-width="1.3" />
<line x1="98.00" y1="219.62" x2="102.00" y2="219.62" stroke="#1f3a6e" stroke-width="1.3" />
<line x1="98.00" y1="229.62" x2="102.00" y2="229.62" stroke="#1f3a6e" stroke-width="1.3" />
<circle cx="100.00" cy="224.62" r="1.5" fill="#1f3a6e"/>
<line x1="127.90" y1="219.62" x2="127.90" y2="229.62" stroke="#1f3a6e" stroke-width="1.3" />
<line x1="125.90" y1="219.62" x2="129.90" y2="219.62" stroke="#1f3a6e" stroke-width="1.3" />
<line x1="125.90" y1="229.62" x2="129.90" y2="229.62" stroke="#1f3a6e" stroke-width="1.3" />
<circle cx="127.90" cy="224.62" r="1.5" fill="#1f3a6e"/>
<line x1="131.40" y1="224.00" x2="131.40" y2="253.80" stroke="#1a1a2a" stroke-width="1.3" />
<line x1="142.80" y1="222.90" x2="142.80" y2="266.10" stroke="#444" stroke-width="1.3" />
<circle cx="135.3" cy="233.60" r="1.0" fill="#2a2a2a"/>
<circle cx="147.2" cy="239.30" r="1.0" fill="#2a2a2a"/>
<circle cx="135.3" cy="237.20" r="1.0" fill="#2a2a2a"/>
<circle cx="147.2" cy="242.90" r="1.0" fill="#2a2a2a"/>
<circle cx="135.3" cy="240.80" r="1.0" fill="#2a2a2a"/>
<circle cx="147.2" cy="246.50" r="1.0" fill="#2a2a2a"/>
<circle cx="135.3" cy="244.40" r="1.0" fill="#2a2a2a"/>
<circle cx="147.2" cy="250.10" r="1.0" fill="#2a2a2a"/>
<line x1="162.80" y1="215.30" x2="171.20" y2="215.30" stroke="#1f3a6e" stroke-width="1.8" />
<circle cx="167" cy="215.3" r="1.5" fill="#1f3a6e"/>
<text x="174.00" y="218.10" font-size="8.0" fill="#3c3c3c" stroke="#3c3c3c" stroke-width="0.1" textLength="9.7" lengthAdjust="spacingAndGlyphs" >ctrl</text>
<line x1="162.80" y1="224.80" x2="171.20" y2="224.80" stroke="#a21a30" stroke-width="1.8" />
<circle cx="167" cy="224.8" r="1.5" fill="#a21a30"/>
<text x="174.00" y="227.60" font-size="8.0" fill="#3c3c3c" stroke="#3c3c3c" stroke-width="0.1" textLength="14.9" lengthAdjust="spacingAndGlyphs" >p1-3</text>
<line x1="162.80" y1="234.80" x2="171.20" y2="234.80" stroke="#5aa83c" stroke-width="1.8" />
<circle cx="167" cy="234.8" r="1.5" fill="#5aa83c"/>
<text x="174.00" y="237.60" font-size="8.0" fill="#3c3c3c" stroke="#3c3c3c" stroke-width="0.1" textLength="14.9" lengthAdjust="spacingAndGlyphs" >p1-4</text>
<text x="208.00" y="197.80" font-size="10.0" fill="#111" font-weight="bold" stroke="#111" stroke-width="0.45" >E</text>
<path d="M212.8 248 V307.6 H444" fill="none" stroke="#111" stroke-width="1.2"/>
<path d="M212.8 242.6 L209.9 250.2 L215.7 250.2 Z" fill="#111"/>
<path d="M447.2 307.6 L439.8 304.2 L439.8 311.0 Z" fill="#111"/>
<text x="215.20" y="227.50" font-size="7.8" fill="#3c3c3c" stroke="#3c3c3c" stroke-width="0.1" text-anchor="middle" textLength="23.6" lengthAdjust="spacingAndGlyphs" transform="rotate(-90 215.20 227.50)" >Hoechst</text>
<text x="451.40" y="310.30" font-size="8.4" fill="#3c3c3c" stroke="#3c3c3c" stroke-width="0.1" textLength="24.3" lengthAdjust="spacingAndGlyphs" >CD235A</text>
<ellipse cx="272.0" cy="234.5" rx="12.3" ry="16.1" fill="#e6e8f0" filter="url(#bl3)"/>
<ellipse cx="273.0" cy="234.5" rx="7.2" ry="11.1" fill="#d2d6e2" filter="url(#bl3)"/>
<g opacity="0.75"><rect x="270.3" y="239.1" width="1" height="1" fill="#aeb4d0"/><rect x="284.1" y="239.4" width="1" height="1" fill="#b2b8d4"/><rect x="270.4" y="236.8" width="1" height="1" fill="#c0c6cc"/><rect x="272.6" y="238.2" width="1" height="1" fill="#b4bac8"/><rect x="274.7" y="236.2" width="1" height="1" fill="#b4bac8"/><rect x="280.2" y="238.7" width="1" height="1" fill="#bcc0d8"/><rect x="265.8" y="225.9" width="1" height="1" fill="#b2b8d4"/><rect x="265.9" y="230.3" width="1" height="1" fill="#bcc0d8"/><rect x="284.9" y="239.6" width="1" height="1" fill="#a8aecc"/><rect x="264.6" y="239.9" width="1" height="1" fill="#c0c6cc"/><rect x="267.5" y="249.8" width="1" height="1" fill="#bcc0d8"/><rect x="279.1" y="241.5" width="1" height="1" fill="#bcc0d8"/><rect x="266.0" y="242.6" width="1" height="1" fill="#b2b8d4"/><rect x="263.3" y="229.6" width="1" height="1" fill="#b4bac8"/><rect x="268.9" y="226.0" width="1" height="1" fill="#a8aecc"/><rect x="256.9" y="238.8" width="1" height="1" fill="#a8aecc"/><rect x="268.3" y="249.6" width="1" height="1" fill="#aeb4d0"/><rect x="272.5" y="230.9" width="1" height="1" fill="#a8aecc"/><rect x="258.3" y="231.6" width="1" height="1" fill="#aeb4d0"/><rect x="263.1" y="238.4" width="1" height="1" fill="#b2b8d4"/><rect x="277.2" y="240.8" width="1" height="1" fill="#b8c0b8"/><rect x="263.3" y="251.9" width="1" height="1" fill="#b4bac8"/><rect x="281.8" y="237.7" width="1" height="1" fill="#b8c0b8"/><rect x="260.8" y="228.9" width="1" height="1" fill="#b8c0b8"/><rect x="267.9" y="247.2" width="1" height="1" fill="#c0c6cc"/><rect x="259.8" y="234.8" width="1" height="1" fill="#b2b8d4"/><rect x="280.8" y="216.4" width="1" height="1" fill="#b4bac8"/><rect x="271.2" y="231.4" width="1" height="1" fill="#aeb4d0"/><rect x="269.0" y="222.2" width="1" height="1" fill="#aeb4d0"/><rect x="274.4" y="227.9" width="1" height="1" fill="#b4bac8"/><rect x="276.8" y="229.1" width="1" height="1" fill="#b4bac8"/><rect x="266.2" y="244.2" width="1" height="1" fill="#b4bac8"/><rect x="282.9" y="240.0" width="1" height="1" fill="#bcc0d8"/><rect x="271.5" y="225.5" width="1" height="1" fill="#b8c0b8"/><rect x="267.9" y="234.6" width="1" height="1" fill="#b4bac8"/><rect x="258.5" y="228.8" width="1" height="1" fill="#b8c0b8"/><rect x="264.2" y="239.3" width="1" height="1" fill="#aeb4d0"/><rect x="266.5" y="238.8" width="1" height="1" fill="#b4bac8"/><rect x="275.8" y="233.2" width="1" height="1" fill="#bcc0d8"/><rect x="277.8" y="245.1" width="1" height="1" fill="#b2b8d4"/><rect x="262.9" y="235.6" width="1" height="1" fill="#a8aecc"/><rect x="271.2" y="239.4" width="1" height="1" fill="#c0c6cc"/><rect x="266.0" y="242.9" width="1" height="1" fill="#bcc0d8"/><rect x="269.0" y="224.5" width="1" height="1" fill="#c0c6cc"/><rect x="265.7" y="222.4" width="1" height="1" fill="#b4bac8"/><rect x="281.6" y="225.3" width="1" height="1" fill="#b8c0b8"/><rect x="268.3" y="224.1" width="1" height="1" fill="#b4bac8"/><rect x="269.4" y="237.0" width="1" height="1" fill="#aeb4d0"/><rect x="268.4" y="237.9" width="1" height="1" fill="#bcc0d8"/><rect x="268.9" y="236.1" width="1" height="1" fill="#c0c6cc"/><rect x="272.1" y="234.6" width="1" height="1" fill="#bcc0d8"/><rect x="255.8" y="229.5" width="1" height="1" fill="#c0c6cc"/><rect x="285.7" y="237.4" width="1" height="1" fill="#c0c6cc"/><rect x="265.1" y="243.4" width="1" height="1" fill="#a8aecc"/><rect x="265.8" y="228.4" width="1" height="1" fill="#b2b8d4"/><rect x="264.3" y="236.7" width="1" height="1" fill="#b2b8d4"/><rect x="279.0" y="246.2" width="1" height="1" fill="#aeb4d0"/><rect x="270.8" y="251.2" width="1" height="1" fill="#bcc0d8"/><rect x="267.4" y="233.9" width="1" height="1" fill="#c0c6cc"/><rect x="265.3" y="244.9" width="1" height="1" fill="#b2b8d4"/><rect x="272.3" y="227.0" width="1" height="1" fill="#aeb4d0"/><rect x="278.9" y="224.1" width="1" height="1" fill="#a8aecc"/><rect x="257.2" y="232.3" width="1" height="1" fill="#a8aecc"/><rect x="273.2" y="223.6" width="1" height="1" fill="#b8c0b8"/><rect x="262.3" y="234.3" width="1" height="1" fill="#c0c6cc"/><rect x="279.4" y="221.6" width="1" height="1" fill="#b8c0b8"/><rect x="262.0" y="243.9" width="1" height="1" fill="#bcc0d8"/><rect x="265.6" y="233.6" width="1" height="1" fill="#b2b8d4"/><rect x="284.0" y="233.5" width="1" height="1" fill="#b4bac8"/><rect x="271.4" y="248.2" width="1" height="1" fill="#a8aecc"/><rect x="256.8" y="241.3" width="1" height="1" fill="#a8aecc"/><rect x="278.2" y="232.1" width="1" height="1" fill="#bcc0d8"/><rect x="278.2" y="240.5" width="1" height="1" fill="#a8aecc"/><rect x="274.7" y="246.5" width="1" height="1" fill="#c0c6cc"/><rect x="276.2" y="225.9" width="1" height="1" fill="#aeb4d0"/><rect x="266.5" y="245.1" width="1" height="1" fill="#b8c0b8"/><rect x="264.0" y="217.9" width="1" height="1" fill="#b8c0b8"/><rect x="270.9" y="228.7" width="1" height="1" fill="#bcc0d8"/><rect x="263.1" y="239.6" width="1" height="1" fill="#b2b8d4"/><rect x="266.5" y="240.0" width="1" height="1" fill="#b2b8d4"/><rect x="271.3" y="229.1" width="1" height="1" fill="#bcc0d8"/><rect x="281.0" y="236.6" width="1" height="1" fill="#b4bac8"/><rect x="273.3" y="229.8" width="1" height="1" fill="#b8c0b8"/><rect x="265.6" y="228.8" width="1" height="1" fill="#a8aecc"/><rect x="276.8" y="243.8" width="1" height="1" fill="#b2b8d4"/><rect x="290.1" y="236.6" width="1" height="1" fill="#aeb4d0"/><rect x="281.1" y="243.4" width="1" height="1" fill="#bcc0d8"/><rect x="259.3" y="241.8" width="1" height="1" fill="#b8c0b8"/><rect x="273.1" y="233.0" width="1" height="1" fill="#bcc0d8"/><rect x="270.6" y="240.9" width="1" height="1" fill="#c0c6cc"/><rect x="268.1" y="244.4" width="1" height="1" fill="#b8c0b8"/><rect x="282.2" y="248.9" width="1" height="1" fill="#a8aecc"/><rect x="280.1" y="226.6" width="1" height="1" fill="#b8c0b8"/><rect x="277.9" y="229.2" width="1" height="1" fill="#c0c6cc"/><rect x="274.7" y="238.3" width="1" height="1" fill="#c0c6cc"/><rect x="279.3" y="235.6" width="1" height="1" fill="#bcc0d8"/><rect x="262.8" y="224.8" width="1" height="1" fill="#bcc0d8"/><rect x="275.6" y="243.4" width="1" height="1" fill="#aeb4d0"/><rect x="273.8" y="236.7" width="1" height="1" fill="#aeb4d0"/><rect x="263.4" y="233.2" width="1" height="1" fill="#b8c0b8"/><rect x="274.3" y="216.3" width="1" height="1" fill="#b2b8d4"/><rect x="272.1" y="241.7" width="1" height="1" fill="#b8c0b8"/><rect x="278.1" y="240.1" width="1" height="1" fill="#b2b8d4"/><rect x="263.2" y="238.8" width="1" height="1" fill="#c0c6cc"/><rect x="268.4" y="230.8" width="1" height="1" fill="#a8aecc"/><rect x="263.9" y="237.8" width="1" height="1" fill="#b4bac8"/><rect x="266.9" y="234.2" width="1" height="1" fill="#c0c6cc"/><rect x="283.6" y="219.6" width="1" height="1" fill="#a8aecc"/><rect x="284.8" y="225.7" width="1" height="1" fill="#bcc0d8"/><rect x="274.0" y="230.4" width="1" height="1" fill="#b2b8d4"/><rect x="267.4" y="239.4" width="1" height="1" fill="#aeb4d0"/><rect x="272.2" y="238.0" width="1" height="1" fill="#aeb4d0"/><rect x="270.9" y="238.8" width="1" height="1" fill="#b8c0b8"/><rect x="278.1" y="246.2" width="1" height="1" fill="#aeb4d0"/><rect x="268.5" y="239.6" width="1" height="1" fill="#bcc0d8"/><rect x="276.7" y="233.2" width="1" height="1" fill="#b2b8d4"/><rect x="265.7" y="240.7" width="1" height="1" fill="#aeb4d0"/><rect x="274.0" y="229.9" width="1" height="1" fill="#b4bac8"/><rect x="278.9" y="234.2" width="1" height="1" fill="#b4bac8"/><rect x="274.0" y="241.9" width="1" height="1" fill="#aeb4d0"/><rect x="267.9" y="240.5" width="1" height="1" fill="#b4bac8"/><rect x="270.8" y="235.1" width="1" height="1" fill="#a8aecc"/><rect x="266.3" y="233.7" width="1" height="1" fill="#b2b8d4"/><rect x="283.6" y="247.5" width="1" height="1" fill="#bcc0d8"/><rect x="275.2" y="233.8" width="1" height="1" fill="#a8aecc"/><rect x="270.0" y="253.7" width="1" height="1" fill="#bcc0d8"/><rect x="271.5" y="239.2" width="1" height="1" fill="#b4bac8"/><rect x="278.0" y="223.6" width="1" height="1" fill="#a8aecc"/><rect x="265.0" y="240.7" width="1" height="1" fill="#c0c6cc"/><rect x="262.4" y="228.6" width="1" height="1" fill="#b2b8d4"/><rect x="269.8" y="250.2" width="1" height="1" fill="#bcc0d8"/><rect x="269.6" y="236.1" width="1" height="1" fill="#b2b8d4"/><rect x="263.8" y="222.5" width="1" height="1" fill="#b2b8d4"/><rect x="268.2" y="230.5" width="1" height="1" fill="#a8aecc"/><rect x="276.9" y="227.0" width="1" height="1" fill="#a8aecc"/><rect x="279.1" y="234.2" width="1" height="1" fill="#a8aecc"/><rect x="270.5" y="232.7" width="1" height="1" fill="#aeb4d0"/><rect x="272.2" y="238.8" width="1" height="1" fill="#bcc0d8"/><rect x="271.7" y="240.1" width="1" height="1" fill="#a8aecc"/><rect x="266.2" y="226.6" width="1" height="1" fill="#bcc0d8"/><rect x="270.0" y="244.7" width="1" height="1" fill="#bcc0d8"/><rect x="270.4" y="250.5" width="1" height="1" fill="#a8aecc"/><rect x="273.3" y="234.9" width="1" height="1" fill="#c0c6cc"/><rect x="267.8" y="232.7" width="1" height="1" fill="#b4bac8"/><rect x="272.2" y="244.2" width="1" height="1" fill="#aeb4d0"/><rect x="275.0" y="225.9" width="1" height="1" fill="#b4bac8"/><rect x="258.3" y="229.2" width="1" height="1" fill="#c0c6cc"/><rect x="270.3" y="240.3" width="1" height="1" fill="#bcc0d8"/><rect x="264.9" y="248.6" width="1" height="1" fill="#aeb4d0"/><rect x="271.5" y="229.6" width="1" height="1" fill="#a8aecc"/><rect x="284.9" y="232.6" width="1" height="1" fill="#b2b8d4"/><rect x="282.1" y="240.8" width="1" height="1" fill="#a8aecc"/><rect x="269.9" y="235.8" width="1" height="1" fill="#aeb4d0"/><rect x="279.5" y="219.3" width="1" height="1" fill="#aeb4d0"/><rect x="281.1" y="232.3" width="1" height="1" fill="#aeb4d0"/><rect x="270.0" y="244.0" width="1" height="1" fill="#bcc0d8"/><rect x="271.9" y="235.3" width="1" height="1" fill="#a8aecc"/><rect x="289.8" y="228.8" width="1" height="1" fill="#c0c6cc"/><rect x="271.2" y="236.6" width="1" height="1" fill="#a8aecc"/><rect x="272.9" y="240.1" width="1" height="1" fill="#a8aecc"/><rect x="266.3" y="241.4" width="1" height="1" fill="#c0c6cc"/><rect x="269.1" y="228.9" width="1" height="1" fill="#b8c0b8"/><rect x="277.3" y="234.7" width="1" height="1" fill="#b2b8d4"/><rect x="277.6" y="243.8" width="1" height="1" fill="#b4bac8"/><rect x="277.8" y="235.6" width="1" height="1" fill="#bcc0d8"/><rect x="286.8" y="245.9" width="1" height="1" fill="#b8c0b8"/><rect x="272.0" y="221.4" width="1" height="1" fill="#aeb4d0"/><rect x="274.0" y="222.7" width="1" height="1" fill="#b8c0b8"/><rect x="262.9" y="257.4" width="1" height="1" fill="#bcc0d8"/><rect x="270.0" y="246.6" width="1" height="1" fill="#bcc0d8"/><rect x="284.5" y="239.1" width="1" height="1" fill="#c0c6cc"/><rect x="264.3" y="224.1" width="1" height="1" fill="#b8c0b8"/><rect x="257.0" y="233.8" width="1" height="1" fill="#b8c0b8"/><rect x="259.1" y="234.0" width="1" height="1" fill="#b8c0b8"/><rect x="282.3" y="235.9" width="1" height="1" fill="#b8c0b8"/><rect x="280.1" y="226.1" width="1" height="1" fill="#aeb4d0"/><rect x="270.2" y="231.6" width="1" height="1" fill="#b2b8d4"/><rect x="276.3" y="240.8" width="1" height="1" fill="#b2b8d4"/><rect x="266.7" y="241.3" width="1" height="1" fill="#b2b8d4"/><rect x="265.3" y="225.5" width="1" height="1" fill="#aeb4d0"/><rect x="272.2" y="241.5" width="1" height="1" fill="#b4bac8"/><rect x="275.3" y="220.3" width="1" height="1" fill="#c0c6cc"/><rect x="274.4" y="232.2" width="1" height="1" fill="#c0c6cc"/><rect x="282.2" y="240.4" width="1" height="1" fill="#a8aecc"/><rect x="276.8" y="218.4" width="1" height="1" fill="#bcc0d8"/><rect x="271.4" y="228.5" width="1" height="1" fill="#aeb4d0"/><rect x="267.5" y="226.5" width="1" height="1" fill="#b8c0b8"/><rect x="266.2" y="241.4" width="1" height="1" fill="#aeb4d0"/><rect x="271.5" y="237.2" width="1" height="1" fill="#aeb4d0"/><rect x="270.3" y="231.7" width="1" height="1" fill="#bcc0d8"/><rect x="267.1" y="245.8" width="1" height="1" fill="#aeb4d0"/><rect x="269.0" y="245.4" width="1" height="1" fill="#b2b8d4"/><rect x="264.2" y="235.6" width="1" height="1" fill="#aeb4d0"/><rect x="275.9" y="238.2" width="1" height="1" fill="#b4bac8"/><rect x="269.9" y="244.9" width="1" height="1" fill="#b4bac8"/><rect x="260.6" y="237.7" width="1" height="1" fill="#c0c6cc"/><rect x="277.9" y="257.9" width="1" height="1" fill="#b4bac8"/><rect x="279.5" y="235.6" width="1" height="1" fill="#b8c0b8"/><rect x="250.0" y="233.3" width="1" height="1" fill="#a8aecc"/><rect x="260.5" y="247.5" width="1" height="1" fill="#bcc0d8"/><rect x="274.6" y="236.3" width="1" height="1" fill="#aeb4d0"/><rect x="255.3" y="231.2" width="1" height="1" fill="#bcc0d8"/><rect x="264.3" y="226.9" width="1" height="1" fill="#a8aecc"/><rect x="280.1" y="225.4" width="1" height="1" fill="#bcc0d8"/><rect x="258.1" y="234.7" width="1" height="1" fill="#b4bac8"/><rect x="272.6" y="234.6" width="1" height="1" fill="#b4bac8"/><rect x="269.1" y="226.2" width="1" height="1" fill="#aeb4d0"/><rect x="276.0" y="240.8" width="1" height="1" fill="#a8aecc"/><rect x="276.4" y="240.0" width="1" height="1" fill="#a8aecc"/><rect x="272.1" y="217.4" width="1" height="1" fill="#b2b8d4"/><rect x="276.2" y="232.3" width="1" height="1" fill="#b2b8d4"/><rect x="276.6" y="230.2" width="1" height="1" fill="#a8aecc"/><rect x="278.2" y="238.0" width="1" height="1" fill="#b8c0b8"/><rect x="266.5" y="230.0" width="1" height="1" fill="#b4bac8"/><rect x="272.5" y="217.0" width="1" height="1" fill="#a8aecc"/><rect x="282.4" y="244.6" width="1" height="1" fill="#a8aecc"/><rect x="269.4" y="230.7" width="1" height="1" fill="#a8aecc"/><rect x="266.5" y="237.5" width="1" height="1" fill="#b8c0b8"/><rect x="260.1" y="250.4" width="1" height="1" fill="#b2b8d4"/><rect x="275.7" y="222.8" width="1" height="1" fill="#c0c6cc"/><rect x="261.6" y="230.2" width="1" height="1" fill="#b2b8d4"/><rect x="278.4" y="230.8" width="1" height="1" fill="#c0c6cc"/><rect x="272.2" y="221.7" width="1" height="1" fill="#a8aecc"/><rect x="257.0" y="236.3" width="1" height="1" fill="#c0c6cc"/><rect x="277.4" y="241.7" width="1" height="1" fill="#a8aecc"/><rect x="271.0" y="241.2" width="1" height="1" fill="#aeb4d0"/><rect x="277.2" y="233.5" width="1" height="1" fill="#aeb4d0"/><rect x="272.6" y="244.7" width="1" height="1" fill="#aeb4d0"/><rect x="268.7" y="237.8" width="1" height="1" fill="#bcc0d8"/><rect x="279.2" y="239.3" width="1" height="1" fill="#b8c0b8"/><rect x="267.2" y="234.6" width="1" height="1" fill="#a8aecc"/><rect x="279.5" y="234.3" width="1" height="1" fill="#bcc0d8"/><rect x="267.1" y="232.5" width="1" height="1" fill="#bcc0d8"/><rect x="270.4" y="237.8" width="1" height="1" fill="#bcc0d8"/><rect x="263.6" y="246.5" width="1" height="1" fill="#bcc0d8"/><rect x="280.6" y="224.8" width="1" height="1" fill="#b4bac8"/><rect x="263.6" y="244.4" width="1" height="1" fill="#bcc0d8"/><rect x="267.6" y="240.2" width="1" height="1" fill="#b2b8d4"/><rect x="263.1" y="234.6" width="1" height="1" fill="#a8aecc"/><rect x="277.7" y="242.0" width="1" height="1" fill="#aeb4d0"/><rect x="275.3" y="217.7" width="1" height="1" fill="#b2b8d4"/><rect x="271.3" y="241.2" width="1" height="1" fill="#b4bac8"/><rect x="267.6" y="227.0" width="1" height="1" fill="#a8aecc"/><rect x="280.1" y="219.7" width="1" height="1" fill="#b2b8d4"/><rect x="277.0" y="241.2" width="1" height="1" fill="#b8c0b8"/><rect x="278.1" y="228.3" width="1" height="1" fill="#c0c6cc"/><rect x="269.3" y="234.7" width="1" height="1" fill="#b8c0b8"/><rect x="264.4" y="232.8" width="1" height="1" fill="#b4bac8"/><rect x="272.0" y="238.8" width="1" height="1" fill="#bcc0d8"/><rect x="282.5" y="254.0" width="1" height="1" fill="#b2b8d4"/><rect x="282.2" y="229.4" width="1" height="1" fill="#aeb4d0"/><rect x="280.3" y="218.9" width="1" height="1" fill="#b2b8d4"/><rect x="270.2" y="233.7" width="1" height="1" fill="#b8c0b8"/><rect x="278.2" y="242.7" width="1" height="1" fill="#b2b8d4"/><rect x="268.5" y="228.5" width="1" height="1" fill="#bcc0d8"/><rect x="266.1" y="226.7" width="1" height="1" fill="#b4bac8"/><rect x="267.6" y="246.7" width="1" height="1" fill="#dcdfe8"/><rect x="278.9" y="252.6" width="1" height="1" fill="#dcdfe8"/><rect x="261.3" y="246.5" width="1" height="1" fill="#dcdfe8"/><rect x="271.0" y="257.5" width="1" height="1" fill="#dcdfe8"/><rect x="276.6" y="249.8" width="1" height="1" fill="#dcdfe8"/><rect x="257.5" y="239.7" width="1" height="1" fill="#dcdfe8"/><rect x="262.5" y="250.2" width="1" height="1" fill="#dcdfe8"/><rect x="269.4" y="264.8" width="1" height="1" fill="#dcdfe8"/><rect x="266.8" y="244.6" width="1" height="1" fill="#dcdfe8"/><rect x="279.5" y="250.5" width="1" height="1" fill="#dcdfe8"/><rect x="264.7" y="243.9" width="1" height="1" fill="#dcdfe8"/><rect x="268.4" y="258.4" width="1" height="1" fill="#dcdfe8"/><rect x="274.8" y="247.6" width="1" height="1" fill="#dcdfe8"/><rect x="277.0" y="250.7" width="1" height="1" fill="#dcdfe8"/><rect x="257.0" y="253.9" width="1" height="1" fill="#dcdfe8"/><rect x="274.2" y="259.7" width="1" height="1" fill="#dcdfe8"/><rect x="268.3" y="242.4" width="1" height="1" fill="#dcdfe8"/><rect x="275.6" y="264.8" width="1" height="1" fill="#dcdfe8"/><rect x="262.7" y="259.8" width="1" height="1" fill="#dcdfe8"/><rect x="269.8" y="253.7" width="1" height="1" fill="#dcdfe8"/><rect x="269.5" y="244.5" width="1" height="1" fill="#dcdfe8"/><rect x="279.1" y="247.4" width="1" height="1" fill="#dcdfe8"/><rect x="271.5" y="253.4" width="1" height="1" fill="#dcdfe8"/><rect x="257.5" y="253.9" width="1" height="1" fill="#dcdfe8"/><rect x="273.8" y="248.4" width="1" height="1" fill="#dcdfe8"/><rect x="264.1" y="252.1" width="1" height="1" fill="#dcdfe8"/><rect x="273.9" y="249.0" width="1" height="1" fill="#dcdfe8"/><rect x="272.0" y="250.2" width="1" height="1" fill="#dcdfe8"/><rect x="253.9" y="257.5" width="1" height="1" fill="#dcdfe8"/><rect x="279.9" y="243.0" width="1" height="1" fill="#dcdfe8"/><rect x="289.8" y="249.3" width="1" height="1" fill="#dcdfe8"/><rect x="266.2" y="252.9" width="1" height="1" fill="#dcdfe8"/><rect x="282.7" y="245.6" width="1" height="1" fill="#dcdfe8"/><rect x="282.0" y="251.3" width="1" height="1" fill="#dcdfe8"/><rect x="262.7" y="253.5" width="1" height="1" fill="#dcdfe8"/><rect x="266.3" y="252.7" width="1" height="1" fill="#dcdfe8"/><rect x="276.3" y="249.6" width="1" height="1" fill="#dcdfe8"/><rect x="255.6" y="261.5" width="1" height="1" fill="#dcdfe8"/><rect x="285.6" y="260.4" width="1" height="1" fill="#dcdfe8"/><rect x="271.2" y="254.9" width="1" height="1" fill="#dcdfe8"/><rect x="276.3" y="239.5" width="1" height="1" fill="#dcdfe8"/><rect x="266.4" y="250.3" width="1" height="1" fill="#dcdfe8"/><rect x="260.4" y="250.5" width="1" height="1" fill="#dcdfe8"/><rect x="274.2" y="247.6" width="1" height="1" fill="#dcdfe8"/><rect x="256.4" y="259.1" width="1" height="1" fill="#dcdfe8"/><rect x="278.1" y="250.7" width="1" height="1" fill="#dcdfe8"/><rect x="274.8" y="240.0" width="1" height="1" fill="#dcdfe8"/><rect x="271.3" y="249.9" width="1" height="1" fill="#dcdfe8"/><rect x="287.7" y="254.7" width="1" height="1" fill="#dcdfe8"/><rect x="268.3" y="259.4" width="1" height="1" fill="#dcdfe8"/><rect x="275.6" y="246.3" width="1" height="1" fill="#dcdfe8"/><rect x="265.8" y="264.4" width="1" height="1" fill="#dcdfe8"/><rect x="263.8" y="246.4" width="1" height="1" fill="#dcdfe8"/><rect x="267.4" y="244.4" width="1" height="1" fill="#dcdfe8"/><rect x="268.9" y="250.0" width="1" height="1" fill="#dcdfe8"/><rect x="269.7" y="236.1" width="1" height="1" fill="#dcdfe8"/><rect x="254.6" y="238.8" width="1" height="1" fill="#dcdfe8"/><rect x="275.5" y="250.2" width="1" height="1" fill="#dcdfe8"/><rect x="277.5" y="247.8" width="1" height="1" fill="#dcdfe8"/><rect x="268.9" y="255.9" width="1" height="1" fill="#dcdfe8"/><rect x="275.6" y="259.4" width="1" height="1" fill="#dcdfe8"/><rect x="267.8" y="238.4" width="1" height="1" fill="#dcdfe8"/><rect x="270.8" y="241.4" width="1" height="1" fill="#dcdfe8"/><rect x="265.3" y="254.1" width="1" height="1" fill="#dcdfe8"/><rect x="258.8" y="257.5" width="1" height="1" fill="#dcdfe8"/><rect x="274.2" y="251.4" width="1" height="1" fill="#dcdfe8"/><rect x="269.1" y="245.0" width="1" height="1" fill="#dcdfe8"/></g>
<ellipse cx="281.0" cy="238.0" rx="6.6" ry="11.8" fill="#cdd3cc" opacity="0.7" filter="url(#bl3)"/>
<ellipse cx="282.0" cy="238.0" rx="3.6" ry="8.8" fill="#b9bfa0" opacity="0.8" filter="url(#bl)"/>
<ellipse cx="282.0" cy="238.0" rx="2.1" ry="6.6" fill="#a0a048" opacity="0.75" filter="url(#bl)"/>
<rect x="278.6" y="259.8" width="16.0" height="11.3" fill="none" stroke="#aaa" stroke-width="0.7"/>
<ellipse cx="282.2" cy="265.8" rx="3.6" ry="5.8" fill="#c4c6a8" filter="url(#bl)"/>
<ellipse cx="282.2" cy="265.8" rx="2.1" ry="4.1" fill="#9a9a48" opacity="0.85" filter="url(#bl2)"/>
<rect x="247.8" y="213.2" width="60.2" height="60.0" fill="none" stroke="#111" stroke-width="1.4"/>
<path d="M245.2 267.2H247.8 M260.8 273.2V277.2 M246.0 263.0H247.8 M265.3 273.2V276.2 M246.0 260.6H247.8 M268.0 273.2V276.2 M246.0 258.8H247.8 M269.8 273.2V276.2 M246.0 257.5H247.8 M271.3 273.2V276.2 M246.0 256.4H247.8 M272.5 273.2V276.2 M246.0 255.5H247.8 M273.5 273.2V276.2 M246.0 254.6H247.8 M274.3 273.2V276.2 M246.0 253.9H247.8 M275.1 273.2V276.2 M245.2 253.3H247.8 M275.8 273.2V277.2 M246.0 249.1H247.8 M280.3 273.2V276.2 M246.0 246.7H247.8 M283.0 273.2V276.2 M246.0 244.9H247.8 M284.8 273.2V276.2 M246.0 243.6H247.8 M286.3 273.2V276.2 M246.0 242.5H247.8 M287.5 273.2V276.2 M246.0 241.6H247.8 M288.5 273.2V276.2 M246.0 240.7H247.8 M289.3 273.2V276.2 M246.0 240.0H247.8 M290.1 273.2V276.2 M245.2 239.4H247.8 M290.8 273.2V277.2 M246.0 235.2H247.8 M295.3 273.2V276.2 M246.0 232.8H247.8 M298.0 273.2V276.2 M246.0 231.0H247.8 M299.8 273.2V276.2 M246.0 229.7H247.8 M301.3 273.2V276.2 M246.0 228.6H247.8 M302.5 273.2V276.2 M246.0 227.7H247.8 M303.5 273.2V276.2 M246.0 226.8H247.8 M304.3 273.2V276.2 M246.0 226.1H247.8 M305.1 273.2V276.2 M245.2 225.5H247.8 M305.8 273.2V277.2 M246.0 221.3H247.8 M246.0 218.9H247.8 M246.0 217.1H247.8 M246.0 215.8H247.8 M249.8 273.2V276.2 M252.3 273.2V276.2 M254.8 273.2V276.2 M257.3 273.2V276.2 M259.8 273.2V276.2 M246.3 271.2H247.8 M246.3 269.2H247.8" stroke="#111" stroke-width="1.2" fill="none"/>
<text x="278.80" y="207.50" font-size="8.8" fill="#2e2e2e" stroke="#2e2e2e" stroke-width="0.1" text-anchor="middle" textLength="13" lengthAdjust="spacingAndGlyphs" >ctrl</text>
<text x="285.90" y="258.40" font-size="8.8" fill="#222" stroke="#222" stroke-width="0.45" text-anchor="middle" textLength="19.8" lengthAdjust="spacingAndGlyphs" >32.4%</text>
<text x="239.80" y="221.20" font-size="6.8" fill="#3c3c3c" stroke="#3c3c3c" stroke-width="0.1" text-anchor="end" textLength="6.8" lengthAdjust="spacingAndGlyphs" >10</text>
<text x="240.20" y="217.90" font-size="4.2" fill="#3c3c3c" stroke="#3c3c3c" stroke-width="0.1" >5</text>
<text x="239.80" y="234.60" font-size="6.8" fill="#3c3c3c" stroke="#3c3c3c" stroke-width="0.1" text-anchor="end" textLength="6.8" lengthAdjust="spacingAndGlyphs" >10</text>
<text x="240.20" y="231.30" font-size="4.2" fill="#3c3c3c" stroke="#3c3c3c" stroke-width="0.1" >4</text>
<text x="239.80" y="248.30" font-size="6.8" fill="#3c3c3c" stroke="#3c3c3c" stroke-width="0.1" text-anchor="end" textLength="6.8" lengthAdjust="spacingAndGlyphs" >10</text>
<text x="240.20" y="245.00" font-size="4.2" fill="#3c3c3c" stroke="#3c3c3c" stroke-width="0.1" >3</text>
<text x="239.80" y="263.30" font-size="6.8" fill="#3c3c3c" stroke="#3c3c3c" stroke-width="0.1" text-anchor="end" textLength="6.8" lengthAdjust="spacingAndGlyphs" >10</text>
<text x="240.20" y="260.00" font-size="4.2" fill="#3c3c3c" stroke="#3c3c3c" stroke-width="0.1" >2</text>
<text x="242.20" y="270.40" font-size="6.8" fill="#3c3c3c" stroke="#3c3c3c" stroke-width="0.1" text-anchor="end" >0</text>
<text x="252.80" y="285.60" font-size="6.8" fill="#3c3c3c" stroke="#3c3c3c" stroke-width="0.1" text-anchor="middle" >0</text>
<text x="255.20" y="285.60" font-size="6.8" fill="#3c3c3c" stroke="#3c3c3c" stroke-width="0.1" textLength="6.8" lengthAdjust="spacingAndGlyphs" >10</text>
<text x="262.20" y="282.30" font-size="4.2" fill="#3c3c3c" stroke="#3c3c3c" stroke-width="0.1" >2</text>
<text x="271.00" y="285.60" font-size="6.8" fill="#3c3c3c" stroke="#3c3c3c" stroke-width="0.1" textLength="6.8" lengthAdjust="spacingAndGlyphs" >10</text>
<text x="278.00" y="282.30" font-size="4.2" fill="#3c3c3c" stroke="#3c3c3c" stroke-width="0.1" >3</text>
<text x="285.80" y="285.60" font-size="6.8" fill="#3c3c3c" stroke="#3c3c3c" stroke-width="0.1" textLength="6.8" lengthAdjust="spacingAndGlyphs" >10</text>
<text x="292.80" y="282.30" font-size="4.2" fill="#3c3c3c" stroke="#3c3c3c" stroke-width="0.1" >4</text>
<text x="299.40" y="285.60" font-size="6.8" fill="#3c3c3c" stroke="#3c3c3c" stroke-width="0.1" textLength="6.8" lengthAdjust="spacingAndGlyphs" >10</text>
<text x="306.40" y="282.30" font-size="4.2" fill="#3c3c3c" stroke="#3c3c3c" stroke-width="0.1" >5</text>
<text x="275.00" y="297.70" font-size="8.8" fill="#3c3c3c" stroke="#3c3c3c" stroke-width="0.1" text-anchor="middle" textLength="18.6" lengthAdjust="spacingAndGlyphs" >APC-A</text>
<text x="227.20" y="243.50" font-size="7.6" fill="#3c3c3c" stroke="#3c3c3c" stroke-width="0.1" text-anchor="middle" textLength="30" lengthAdjust="spacingAndGlyphs" transform="rotate(-90 227.20 243.50)" >Hoechst-A</text>
<ellipse cx="371.0" cy="238.0" rx="12.9" ry="15.2" fill="#e6e8f0" filter="url(#bl3)"/>
<ellipse cx="372.0" cy="238.0" rx="7.5" ry="10.4" fill="#d2d6e2" filter="url(#bl3)"/>
<g opacity="0.75"><rect x="372.7" y="238.9" width="1" height="1" fill="#c0c6cc"/><rect x="366.9" y="236.6" width="1" height="1" fill="#b4bac8"/><rect x="386.8" y="221.3" width="1" height="1" fill="#a8aecc"/><rect x="367.5" y="234.0" width="1" height="1" fill="#b4bac8"/><rect x="359.8" y="238.1" width="1" height="1" fill="#b4bac8"/><rect x="372.8" y="242.0" width="1" height="1" fill="#b4bac8"/><rect x="363.2" y="229.4" width="1" height="1" fill="#aeb4d0"/><rect x="359.0" y="234.5" width="1" height="1" fill="#b8c0b8"/><rect x="380.9" y="249.1" width="1" height="1" fill="#a8aecc"/><rect x="370.0" y="244.5" width="1" height="1" fill="#a8aecc"/><rect x="370.6" y="232.4" width="1" height="1" fill="#bcc0d8"/><rect x="373.1" y="243.7" width="1" height="1" fill="#a8aecc"/><rect x="378.0" y="230.7" width="1" height="1" fill="#a8aecc"/><rect x="376.0" y="240.5" width="1" height="1" fill="#bcc0d8"/><rect x="365.8" y="237.7" width="1" height="1" fill="#b8c0b8"/><rect x="377.4" y="243.5" width="1" height="1" fill="#b2b8d4"/><rect x="377.5" y="243.7" width="1" height="1" fill="#b8c0b8"/><rect x="371.9" y="247.1" width="1" height="1" fill="#a8aecc"/><rect x="376.8" y="239.8" width="1" height="1" fill="#b2b8d4"/><rect x="380.2" y="241.5" width="1" height="1" fill="#b8c0b8"/><rect x="356.7" y="228.3" width="1" height="1" fill="#a8aecc"/><rect x="366.5" y="237.6" width="1" height="1" fill="#c0c6cc"/><rect x="370.2" y="252.5" width="1" height="1" fill="#b2b8d4"/><rect x="378.6" y="245.0" width="1" height="1" fill="#c0c6cc"/><rect x="369.8" y="239.9" width="1" height="1" fill="#a8aecc"/><rect x="374.0" y="242.4" width="1" height="1" fill="#a8aecc"/><rect x="382.3" y="241.2" width="1" height="1" fill="#bcc0d8"/><rect x="376.2" y="223.7" width="1" height="1" fill="#b4bac8"/><rect x="369.0" y="233.2" width="1" height="1" fill="#a8aecc"/><rect x="372.6" y="239.0" width="1" height="1" fill="#b4bac8"/><rect x="368.5" y="237.1" width="1" height="1" fill="#b2b8d4"/><rect x="374.0" y="226.1" width="1" height="1" fill="#bcc0d8"/><rect x="369.0" y="235.2" width="1" height="1" fill="#bcc0d8"/><rect x="366.5" y="242.0" width="1" height="1" fill="#a8aecc"/><rect x="367.3" y="230.4" width="1" height="1" fill="#b2b8d4"/><rect x="367.5" y="248.0" width="1" height="1" fill="#a8aecc"/><rect x="369.8" y="238.8" width="1" height="1" fill="#b8c0b8"/><rect x="377.8" y="237.8" width="1" height="1" fill="#bcc0d8"/><rect x="365.4" y="243.4" width="1" height="1" fill="#b2b8d4"/><rect x="367.2" y="240.0" width="1" height="1" fill="#b2b8d4"/><rect x="374.1" y="230.2" width="1" height="1" fill="#a8aecc"/><rect x="366.9" y="239.2" width="1" height="1" fill="#b2b8d4"/><rect x="374.8" y="239.5" width="1" height="1" fill="#b8c0b8"/><rect x="373.6" y="236.1" width="1" height="1" fill="#c0c6cc"/><rect x="381.5" y="231.9" width="1" height="1" fill="#bcc0d8"/><rect x="374.5" y="243.4" width="1" height="1" fill="#c0c6cc"/><rect x="372.3" y="240.8" width="1" height="1" fill="#b4bac8"/><rect x="358.1" y="238.9" width="1" height="1" fill="#b8c0b8"/><rect x="372.2" y="242.1" width="1" height="1" fill="#b2b8d4"/><rect x="379.1" y="236.5" width="1" height="1" fill="#b2b8d4"/><rect x="363.1" y="230.5" width="1" height="1" fill="#b2b8d4"/><rect x="379.2" y="231.4" width="1" height="1" fill="#b8c0b8"/><rect x="378.9" y="230.4" width="1" height="1" fill="#b8c0b8"/><rect x="372.3" y="246.4" width="1" height="1" fill="#b8c0b8"/><rect x="373.7" y="247.0" width="1" height="1" fill="#c0c6cc"/><rect x="372.4" y="246.3" width="1" height="1" fill="#c0c6cc"/><rect x="374.7" y="244.6" width="1" height="1" fill="#bcc0d8"/><rect x="371.2" y="251.5" width="1" height="1" fill="#bcc0d8"/><rect x="379.9" y="240.8" width="1" height="1" fill="#b8c0b8"/><rect x="366.0" y="227.0" width="1" height="1" fill="#a8aecc"/><rect x="378.1" y="245.7" width="1" height="1" fill="#c0c6cc"/><rect x="378.2" y="226.2" width="1" height="1" fill="#aeb4d0"/><rect x="362.7" y="243.3" width="1" height="1" fill="#b4bac8"/><rect x="365.8" y="243.2" width="1" height="1" fill="#c0c6cc"/><rect x="369.6" y="238.7" width="1" height="1" fill="#c0c6cc"/><rect x="379.0" y="237.2" width="1" height="1" fill="#b4bac8"/><rect x="372.1" y="223.4" width="1" height="1" fill="#b4bac8"/><rect x="377.7" y="224.9" width="1" height="1" fill="#b4bac8"/><rect x="373.9" y="240.7" width="1" height="1" fill="#b4bac8"/><rect x="362.5" y="249.3" width="1" height="1" fill="#c0c6cc"/><rect x="368.9" y="237.8" width="1" height="1" fill="#aeb4d0"/><rect x="382.0" y="251.9" width="1" height="1" fill="#a8aecc"/><rect x="372.5" y="228.1" width="1" height="1" fill="#b2b8d4"/><rect x="371.2" y="220.2" width="1" height="1" fill="#aeb4d0"/><rect x="374.7" y="236.6" width="1" height="1" fill="#b8c0b8"/><rect x="380.0" y="242.7" width="1" height="1" fill="#aeb4d0"/><rect x="372.9" y="232.9" width="1" height="1" fill="#b4bac8"/><rect x="367.9" y="252.9" width="1" height="1" fill="#b8c0b8"/><rect x="377.4" y="250.7" width="1" height="1" fill="#bcc0d8"/><rect x="377.1" y="241.1" width="1" height="1" fill="#b8c0b8"/><rect x="370.9" y="245.4" width="1" height="1" fill="#c0c6cc"/><rect x="368.9" y="253.3" width="1" height="1" fill="#bcc0d8"/><rect x="370.5" y="259.7" width="1" height="1" fill="#b4bac8"/><rect x="372.4" y="244.3" width="1" height="1" fill="#c0c6cc"/><rect x="371.5" y="246.1" width="1" height="1" fill="#bcc0d8"/><rect x="372.8" y="242.5" width="1" height="1" fill="#a8aecc"/><rect x="364.5" y="221.9" width="1" height="1" fill="#bcc0d8"/><rect x="372.5" y="231.6" width="1" height="1" fill="#b8c0b8"/><rect x="361.0" y="235.7" width="1" height="1" fill="#a8aecc"/><rect x="378.7" y="236.1" width="1" height="1" fill="#c0c6cc"/><rect x="358.1" y="229.6" width="1" height="1" fill="#b2b8d4"/><rect x="370.9" y="248.4" width="1" height="1" fill="#b8c0b8"/><rect x="361.0" y="247.3" width="1" height="1" fill="#a8aecc"/><rect x="366.1" y="243.7" width="1" height="1" fill="#bcc0d8"/><rect x="363.2" y="249.0" width="1" height="1" fill="#b4bac8"/><rect x="372.2" y="249.5" width="1" height="1" fill="#b2b8d4"/><rect x="368.5" y="247.7" width="1" height="1" fill="#a8aecc"/><rect x="357.8" y="219.5" width="1" height="1" fill="#c0c6cc"/><rect x="384.7" y="230.2" width="1" height="1" fill="#aeb4d0"/><rect x="372.9" y="238.0" width="1" height="1" fill="#bcc0d8"/><rect x="368.5" y="249.4" width="1" height="1" fill="#b4bac8"/><rect x="355.9" y="236.6" width="1" height="1" fill="#bcc0d8"/><rect x="361.2" y="238.8" width="1" height="1" fill="#b2b8d4"/><rect x="371.5" y="238.1" width="1" height="1" fill="#a8aecc"/><rect x="368.1" y="247.6" width="1" height="1" fill="#c0c6cc"/><rect x="372.5" y="249.0" width="1" height="1" fill="#c0c6cc"/><rect x="375.6" y="244.0" width="1" height="1" fill="#b8c0b8"/><rect x="367.2" y="238.7" width="1" height="1" fill="#b8c0b8"/><rect x="371.2" y="242.8" width="1" height="1" fill="#b2b8d4"/><rect x="374.7" y="239.8" width="1" height="1" fill="#aeb4d0"/><rect x="372.5" y="229.7" width="1" height="1" fill="#a8aecc"/><rect x="373.4" y="237.4" width="1" height="1" fill="#b8c0b8"/><rect x="364.9" y="235.0" width="1" height="1" fill="#aeb4d0"/><rect x="362.5" y="232.6" width="1" height="1" fill="#c0c6cc"/><rect x="370.4" y="231.7" width="1" height="1" fill="#b2b8d4"/><rect x="379.5" y="240.8" width="1" height="1" fill="#b4bac8"/><rect x="372.7" y="242.5" width="1" height="1" fill="#b8c0b8"/><rect x="378.8" y="245.1" width="1" height="1" fill="#aeb4d0"/><rect x="374.7" y="236.3" width="1" height="1" fill="#bcc0d8"/><rect x="360.8" y="236.6" width="1" height="1" fill="#aeb4d0"/><rect x="362.8" y="226.0" width="1" height="1" fill="#bcc0d8"/><rect x="368.4" y="237.8" width="1" height="1" fill="#aeb4d0"/><rect x="385.3" y="243.3" width="1" height="1" fill="#b8c0b8"/><rect x="362.2" y="239.4" width="1" height="1" fill="#b4bac8"/><rect x="377.6" y="226.5" width="1" height="1" fill="#b4bac8"/><rect x="380.1" y="243.9" width="1" height="1" fill="#bcc0d8"/><rect x="371.5" y="241.9" width="1" height="1" fill="#bcc0d8"/><rect x="368.7" y="234.6" width="1" height="1" fill="#aeb4d0"/><rect x="386.2" y="228.9" width="1" height="1" fill="#a8aecc"/><rect x="369.7" y="231.6" width="1" height="1" fill="#c0c6cc"/><rect x="366.3" y="226.5" width="1" height="1" fill="#c0c6cc"/><rect x="376.9" y="236.8" width="1" height="1" fill="#bcc0d8"/><rect x="378.3" y="243.1" width="1" height="1" fill="#bcc0d8"/><rect x="370.7" y="244.2" width="1" height="1" fill="#aeb4d0"/><rect x="372.2" y="242.7" width="1" height="1" fill="#a8aecc"/><rect x="373.5" y="245.8" width="1" height="1" fill="#c0c6cc"/><rect x="372.1" y="256.3" width="1" height="1" fill="#aeb4d0"/><rect x="388.8" y="226.8" width="1" height="1" fill="#b8c0b8"/><rect x="379.0" y="236.8" width="1" height="1" fill="#b8c0b8"/><rect x="370.2" y="237.8" width="1" height="1" fill="#b2b8d4"/><rect x="360.4" y="243.2" width="1" height="1" fill="#c0c6cc"/><rect x="380.4" y="228.2" width="1" height="1" fill="#b4bac8"/><rect x="368.9" y="235.6" width="1" height="1" fill="#bcc0d8"/><rect x="372.0" y="239.5" width="1" height="1" fill="#b2b8d4"/><rect x="367.9" y="234.5" width="1" height="1" fill="#bcc0d8"/><rect x="370.5" y="236.0" width="1" height="1" fill="#bcc0d8"/><rect x="367.4" y="226.9" width="1" height="1" fill="#aeb4d0"/><rect x="373.0" y="239.1" width="1" height="1" fill="#b8c0b8"/><rect x="365.3" y="233.7" width="1" height="1" fill="#b8c0b8"/><rect x="379.5" y="235.1" width="1" height="1" fill="#aeb4d0"/><rect x="384.1" y="244.8" width="1" height="1" fill="#aeb4d0"/><rect x="374.2" y="236.6" width="1" height="1" fill="#bcc0d8"/><rect x="371.5" y="240.1" width="1" height="1" fill="#b8c0b8"/><rect x="381.1" y="230.5" width="1" height="1" fill="#b2b8d4"/><rect x="375.6" y="227.4" width="1" height="1" fill="#a8aecc"/><rect x="367.2" y="238.6" width="1" height="1" fill="#b8c0b8"/><rect x="371.2" y="232.3" width="1" height="1" fill="#a8aecc"/><rect x="368.1" y="243.6" width="1" height="1" fill="#a8aecc"/><rect x="370.8" y="244.8" width="1" height="1" fill="#aeb4d0"/><rect x="372.0" y="219.6" width="1" height="1" fill="#b8c0b8"/><rect x="379.2" y="235.8" width="1" height="1" fill="#b8c0b8"/><rect x="368.2" y="251.5" width="1" height="1" fill="#b8c0b8"/><rect x="364.5" y="242.7" width="1" height="1" fill="#b8c0b8"/><rect x="377.5" y="243.5" width="1" height="1" fill="#b2b8d4"/><rect x="366.2" y="236.6" width="1" height="1" fill="#b8c0b8"/><rect x="375.4" y="228.3" width="1" height="1" fill="#a8aecc"/><rect x="371.2" y="238.4" width="1" height="1" fill="#bcc0d8"/><rect x="368.2" y="251.6" width="1" height="1" fill="#b2b8d4"/><rect x="379.3" y="238.3" width="1" height="1" fill="#b4bac8"/><rect x="366.5" y="223.2" width="1" height="1" fill="#b4bac8"/><rect x="356.0" y="226.4" width="1" height="1" fill="#c0c6cc"/><rect x="369.9" y="258.1" width="1" height="1" fill="#a8aecc"/><rect x="377.7" y="219.8" width="1" height="1" fill="#bcc0d8"/><rect x="367.6" y="238.0" width="1" height="1" fill="#aeb4d0"/><rect x="371.9" y="228.3" width="1" height="1" fill="#aeb4d0"/><rect x="367.9" y="236.5" width="1" height="1" fill="#a8aecc"/><rect x="366.5" y="244.7" width="1" height="1" fill="#b4bac8"/><rect x="380.2" y="229.3" width="1" height="1" fill="#b4bac8"/><rect x="372.2" y="236.8" width="1" height="1" fill="#bcc0d8"/><rect x="368.5" y="246.4" width="1" height="1" fill="#c0c6cc"/><rect x="364.0" y="237.9" width="1" height="1" fill="#aeb4d0"/><rect x="371.8" y="247.3" width="1" height="1" fill="#c0c6cc"/><rect x="361.9" y="230.8" width="1" height="1" fill="#c0c6cc"/><rect x="367.0" y="231.8" width="1" height="1" fill="#a8aecc"/><rect x="356.8" y="235.7" width="1" height="1" fill="#b4bac8"/><rect x="364.8" y="226.2" width="1" height="1" fill="#bcc0d8"/><rect x="360.4" y="240.9" width="1" height="1" fill="#a8aecc"/><rect x="367.7" y="235.9" width="1" height="1" fill="#b4bac8"/><rect x="364.1" y="227.9" width="1" height="1" fill="#c0c6cc"/><rect x="373.2" y="244.6" width="1" height="1" fill="#aeb4d0"/><rect x="375.6" y="227.7" width="1" height="1" fill="#aeb4d0"/><rect x="374.0" y="243.3" width="1" height="1" fill="#a8aecc"/><rect x="365.7" y="233.3" width="1" height="1" fill="#bcc0d8"/><rect x="368.8" y="242.8" width="1" height="1" fill="#aeb4d0"/><rect x="375.3" y="237.8" width="1" height="1" fill="#aeb4d0"/><rect x="376.6" y="242.9" width="1" height="1" fill="#bcc0d8"/><rect x="374.2" y="224.9" width="1" height="1" fill="#b4bac8"/><rect x="370.5" y="242.0" width="1" height="1" fill="#b2b8d4"/><rect x="368.1" y="255.2" width="1" height="1" fill="#b4bac8"/><rect x="378.0" y="239.8" width="1" height="1" fill="#b8c0b8"/><rect x="366.3" y="240.3" width="1" height="1" fill="#aeb4d0"/><rect x="370.6" y="239.7" width="1" height="1" fill="#a8aecc"/><rect x="365.2" y="232.8" width="1" height="1" fill="#aeb4d0"/><rect x="371.7" y="254.4" width="1" height="1" fill="#aeb4d0"/><rect x="360.4" y="231.7" width="1" height="1" fill="#b4bac8"/><rect x="377.0" y="227.7" width="1" height="1" fill="#aeb4d0"/><rect x="380.0" y="228.1" width="1" height="1" fill="#aeb4d0"/><rect x="366.6" y="235.0" width="1" height="1" fill="#bcc0d8"/><rect x="366.1" y="230.8" width="1" height="1" fill="#a8aecc"/><rect x="370.3" y="251.0" width="1" height="1" fill="#b4bac8"/><rect x="371.3" y="246.5" width="1" height="1" fill="#aeb4d0"/><rect x="367.3" y="233.4" width="1" height="1" fill="#b4bac8"/><rect x="369.6" y="238.2" width="1" height="1" fill="#b8c0b8"/><rect x="362.0" y="244.8" width="1" height="1" fill="#b8c0b8"/><rect x="375.3" y="249.2" width="1" height="1" fill="#b8c0b8"/><rect x="384.5" y="239.1" width="1" height="1" fill="#b2b8d4"/><rect x="379.7" y="240.5" width="1" height="1" fill="#bcc0d8"/><rect x="367.3" y="217.8" width="1" height="1" fill="#bcc0d8"/><rect x="367.7" y="237.5" width="1" height="1" fill="#c0c6cc"/><rect x="366.3" y="239.5" width="1" height="1" fill="#b4bac8"/><rect x="360.8" y="237.1" width="1" height="1" fill="#b8c0b8"/><rect x="366.5" y="243.6" width="1" height="1" fill="#aeb4d0"/><rect x="375.6" y="236.1" width="1" height="1" fill="#aeb4d0"/><rect x="374.5" y="247.2" width="1" height="1" fill="#b2b8d4"/><rect x="369.7" y="226.5" width="1" height="1" fill="#aeb4d0"/><rect x="376.4" y="240.3" width="1" height="1" fill="#b4bac8"/><rect x="373.6" y="239.3" width="1" height="1" fill="#b4bac8"/><rect x="363.6" y="228.9" width="1" height="1" fill="#c0c6cc"/><rect x="370.5" y="244.0" width="1" height="1" fill="#aeb4d0"/><rect x="356.7" y="250.2" width="1" height="1" fill="#bcc0d8"/><rect x="389.2" y="237.2" width="1" height="1" fill="#b4bac8"/><rect x="371.9" y="242.3" width="1" height="1" fill="#b8c0b8"/><rect x="382.6" y="244.3" width="1" height="1" fill="#bcc0d8"/><rect x="362.0" y="240.1" width="1" height="1" fill="#bcc0d8"/><rect x="372.6" y="233.7" width="1" height="1" fill="#aeb4d0"/><rect x="362.5" y="226.1" width="1" height="1" fill="#b8c0b8"/><rect x="350.6" y="252.5" width="1" height="1" fill="#b8c0b8"/><rect x="367.5" y="236.7" width="1" height="1" fill="#b8c0b8"/><rect x="358.7" y="240.8" width="1" height="1" fill="#bcc0d8"/><rect x="370.2" y="246.1" width="1" height="1" fill="#a8aecc"/><rect x="381.7" y="236.6" width="1" height="1" fill="#b4bac8"/><rect x="382.4" y="238.2" width="1" height="1" fill="#a8aecc"/><rect x="364.5" y="247.5" width="1" height="1" fill="#a8aecc"/><rect x="363.5" y="239.1" width="1" height="1" fill="#aeb4d0"/><rect x="384.1" y="247.2" width="1" height="1" fill="#bcc0d8"/><rect x="383.6" y="230.9" width="1" height="1" fill="#b2b8d4"/><rect x="378.9" y="243.5" width="1" height="1" fill="#a8aecc"/><rect x="371.8" y="233.5" width="1" height="1" fill="#b8c0b8"/><rect x="365.7" y="247.2" width="1" height="1" fill="#aeb4d0"/><rect x="388.5" y="239.5" width="1" height="1" fill="#aeb4d0"/><rect x="368.4" y="249.1" width="1" height="1" fill="#c0c6cc"/><rect x="374.3" y="242.8" width="1" height="1" fill="#b8c0b8"/><rect x="359.0" y="242.4" width="1" height="1" fill="#bcc0d8"/><rect x="381.4" y="229.6" width="1" height="1" fill="#bcc0d8"/><rect x="362.6" y="229.9" width="1" height="1" fill="#b8c0b8"/><rect x="384.0" y="247.7" width="1" height="1" fill="#c0c6cc"/><rect x="374.2" y="222.4" width="1" height="1" fill="#bcc0d8"/><rect x="366.1" y="238.2" width="1" height="1" fill="#b2b8d4"/><rect x="370.6" y="229.0" width="1" height="1" fill="#b2b8d4"/><rect x="365.7" y="235.8" width="1" height="1" fill="#bcc0d8"/><rect x="372.7" y="247.0" width="1" height="1" fill="#dcdfe8"/><rect x="358.3" y="250.6" width="1" height="1" fill="#dcdfe8"/><rect x="379.6" y="247.8" width="1" height="1" fill="#dcdfe8"/><rect x="368.1" y="256.6" width="1" height="1" fill="#dcdfe8"/><rect x="356.1" y="247.3" width="1" height="1" fill="#dcdfe8"/><rect x="372.2" y="257.5" width="1" height="1" fill="#dcdfe8"/><rect x="364.5" y="246.4" width="1" height="1" fill="#dcdfe8"/><rect x="365.1" y="259.4" width="1" height="1" fill="#dcdfe8"/><rect x="365.5" y="249.6" width="1" height="1" fill="#dcdfe8"/><rect x="359.7" y="259.7" width="1" height="1" fill="#dcdfe8"/><rect x="370.7" y="253.2" width="1" height="1" fill="#dcdfe8"/><rect x="365.2" y="230.8" width="1" height="1" fill="#dcdfe8"/><rect x="369.4" y="250.5" width="1" height="1" fill="#dcdfe8"/><rect x="352.9" y="254.0" width="1" height="1" fill="#dcdfe8"/><rect x="371.8" y="256.3" width="1" height="1" fill="#dcdfe8"/><rect x="364.0" y="254.6" width="1" height="1" fill="#dcdfe8"/><rect x="378.9" y="257.9" width="1" height="1" fill="#dcdfe8"/><rect x="359.5" y="261.7" width="1" height="1" fill="#dcdfe8"/><rect x="349.3" y="248.6" width="1" height="1" fill="#dcdfe8"/><rect x="366.2" y="258.4" width="1" height="1" fill="#dcdfe8"/><rect x="368.0" y="255.0" width="1" height="1" fill="#dcdfe8"/><rect x="365.9" y="258.5" width="1" height="1" fill="#dcdfe8"/><rect x="359.9" y="253.2" width="1" height="1" fill="#dcdfe8"/><rect x="386.2" y="251.8" width="1" height="1" fill="#dcdfe8"/><rect x="364.6" y="256.4" width="1" height="1" fill="#dcdfe8"/><rect x="363.5" y="253.1" width="1" height="1" fill="#dcdfe8"/><rect x="373.0" y="261.9" width="1" height="1" fill="#dcdfe8"/><rect x="384.8" y="264.6" width="1" height="1" fill="#dcdfe8"/><rect x="393.8" y="263.6" width="1" height="1" fill="#dcdfe8"/><rect x="358.8" y="257.5" width="1" height="1" fill="#dcdfe8"/><rect x="358.2" y="257.4" width="1" height="1" fill="#dcdfe8"/><rect x="364.5" y="254.7" width="1" height="1" fill="#dcdfe8"/><rect x="384.0" y="256.2" width="1" height="1" fill="#dcdfe8"/><rect x="352.8" y="254.6" width="1" height="1" fill="#dcdfe8"/><rect x="377.9" y="255.6" width="1" height="1" fill="#dcdfe8"/><rect x="359.6" y="251.4" width="1" height="1" fill="#dcdfe8"/><rect x="376.1" y="260.2" width="1" height="1" fill="#dcdfe8"/><rect x="361.1" y="241.6" width="1" height="1" fill="#dcdfe8"/><rect x="370.2" y="253.8" width="1" height="1" fill="#dcdfe8"/><rect x="359.6" y="246.7" width="1" height="1" fill="#dcdfe8"/><rect x="374.1" y="260.9" width="1" height="1" fill="#dcdfe8"/><rect x="374.4" y="248.4" width="1" height="1" fill="#dcdfe8"/><rect x="384.8" y="261.2" width="1" height="1" fill="#dcdfe8"/><rect x="386.2" y="254.0" width="1" height="1" fill="#dcdfe8"/><rect x="373.0" y="257.0" width="1" height="1" fill="#dcdfe8"/><rect x="363.6" y="241.4" width="1" height="1" fill="#dcdfe8"/><rect x="368.9" y="254.5" width="1" height="1" fill="#dcdfe8"/><rect x="379.5" y="254.0" width="1" height="1" fill="#dcdfe8"/><rect x="350.4" y="246.7" width="1" height="1" fill="#dcdfe8"/><rect x="357.1" y="253.1" width="1" height="1" fill="#dcdfe8"/><rect x="375.0" y="243.8" width="1" height="1" fill="#dcdfe8"/><rect x="355.8" y="257.4" width="1" height="1" fill="#dcdfe8"/><rect x="365.2" y="254.3" width="1" height="1" fill="#dcdfe8"/><rect x="362.9" y="245.7" width="1" height="1" fill="#dcdfe8"/><rect x="381.2" y="252.6" width="1" height="1" fill="#dcdfe8"/><rect x="376.6" y="261.5" width="1" height="1" fill="#dcdfe8"/><rect x="364.4" y="252.2" width="1" height="1" fill="#dcdfe8"/><rect x="349.2" y="255.2" width="1" height="1" fill="#dcdfe8"/><rect x="361.4" y="248.5" width="1" height="1" fill="#dcdfe8"/><rect x="381.4" y="253.5" width="1" height="1" fill="#dcdfe8"/><rect x="385.7" y="252.0" width="1" height="1" fill="#dcdfe8"/><rect x="368.9" y="256.0" width="1" height="1" fill="#dcdfe8"/><rect x="360.9" y="253.8" width="1" height="1" fill="#dcdfe8"/><rect x="359.1" y="250.2" width="1" height="1" fill="#dcdfe8"/><rect x="367.3" y="239.4" width="1" height="1" fill="#dcdfe8"/><rect x="358.1" y="260.4" width="1" height="1" fill="#dcdfe8"/><rect x="366.3" y="249.8" width="1" height="1" fill="#dcdfe8"/><rect x="368.4" y="248.0" width="1" height="1" fill="#dcdfe8"/><rect x="358.1" y="250.5" width="1" height="1" fill="#dcdfe8"/></g>
<ellipse cx="377.9" cy="238.5" rx="7.6" ry="8.4" fill="#cdd3cc" opacity="0.7" filter="url(#bl3)"/>
<ellipse cx="378.9" cy="238.5" rx="4.6" ry="5.4" fill="#b9bfa0" opacity="0.8" filter="url(#bl)"/>
<ellipse cx="378.9" cy="238.5" rx="2.9" ry="3.7" fill="#a0a048" opacity="0.75" filter="url(#bl)"/>
<rect x="373.3" y="259.8" width="16.0" height="11.3" fill="none" stroke="#aaa" stroke-width="0.7"/>
<ellipse cx="377.5" cy="265.5" rx="3.4" ry="4.0" fill="#c4c6a8" filter="url(#bl)"/>
<ellipse cx="377.5" cy="265.5" rx="1.9" ry="2.5" fill="#9a9a48" opacity="0.85" filter="url(#bl2)"/>
<rect x="343.5" y="213.2" width="60.2" height="60.0" fill="none" stroke="#111" stroke-width="1.4"/>
<path d="M340.9 267.2H343.5 M356.5 273.2V277.2 M341.7 263.0H343.5 M361.0 273.2V276.2 M341.7 260.6H343.5 M363.7 273.2V276.2 M341.7 258.8H343.5 M365.5 273.2V276.2 M341.7 257.5H343.5 M367.0 273.2V276.2 M341.7 256.4H343.5 M368.2 273.2V276.2 M341.7 255.5H343.5 M369.2 273.2V276.2 M341.7 254.6H343.5 M370.0 273.2V276.2 M341.7 253.9H343.5 M370.8 273.2V276.2 M340.9 253.3H343.5 M371.5 273.2V277.2 M341.7 249.1H343.5 M376.0 273.2V276.2 M341.7 246.7H343.5 M378.7 273.2V276.2 M341.7 244.9H343.5 M380.5 273.2V276.2 M341.7 243.6H343.5 M382.0 273.2V276.2 M341.7 242.5H343.5 M383.2 273.2V276.2 M341.7 241.6H343.5 M384.2 273.2V276.2 M341.7 240.7H343.5 M385.0 273.2V276.2 M341.7 240.0H343.5 M385.8 273.2V276.2 M340.9 239.4H343.5 M386.5 273.2V277.2 M341.7 235.2H343.5 M391.0 273.2V276.2 M341.7 232.8H343.5 M393.7 273.2V276.2 M341.7 231.0H343.5 M395.5 273.2V276.2 M341.7 229.7H343.5 M397.0 273.2V276.2 M341.7 228.6H343.5 M398.2 273.2V276.2 M341.7 227.7H343.5 M399.2 273.2V276.2 M341.7 226.8H343.5 M400.0 273.2V276.2 M341.7 226.1H343.5 M400.8 273.2V276.2 M340.9 225.5H343.5 M401.5 273.2V277.2 M341.7 221.3H343.5 M341.7 218.9H343.5 M341.7 217.1H343.5 M341.7 215.8H343.5 M345.5 273.2V276.2 M348.0 273.2V276.2 M350.5 273.2V276.2 M353.0 273.2V276.2 M355.5 273.2V276.2 M342.0 271.2H343.5 M342.0 269.2H343.5" stroke="#111" stroke-width="1.2" fill="none"/>
<text x="374.50" y="207.50" font-size="8.8" fill="#2e2e2e" stroke="#2e2e2e" stroke-width="0.1" text-anchor="middle" textLength="45.4" lengthAdjust="spacingAndGlyphs" >p1-3 shRNA</text>
<text x="381.30" y="258.40" font-size="8.8" fill="#222" stroke="#222" stroke-width="0.45" text-anchor="middle" textLength="19.8" lengthAdjust="spacingAndGlyphs" >20.3%</text>
<text x="335.50" y="221.20" font-size="6.8" fill="#3c3c3c" stroke="#3c3c3c" stroke-width="0.1" text-anchor="end" textLength="6.8" lengthAdjust="spacingAndGlyphs" >10</text>
<text x="335.90" y="217.90" font-size="4.2" fill="#3c3c3c" stroke="#3c3c3c" stroke-width="0.1" >5</text>
<text x="335.50" y="234.60" font-size="6.8" fill="#3c3c3c" stroke="#3c3c3c" stroke-width="0.1" text-anchor="end" textLength="6.8" lengthAdjust="spacingAndGlyphs" >10</text>
<text x="335.90" y="231.30" font-size="4.2" fill="#3c3c3c" stroke="#3c3c3c" stroke-width="0.1" >4</text>
<text x="335.50" y="248.30" font-size="6.8" fill="#3c3c3c" stroke="#3c3c3c" stroke-width="0.1" text-anchor="end" textLength="6.8" lengthAdjust="spacingAndGlyphs" >10</text>
<text x="335.90" y="245.00" font-size="4.2" fill="#3c3c3c" stroke="#3c3c3c" stroke-width="0.1" >3</text>
<text x="335.50" y="263.30" font-size="6.8" fill="#3c3c3c" stroke="#3c3c3c" stroke-width="0.1" text-anchor="end" textLength="6.8" lengthAdjust="spacingAndGlyphs" >10</text>
<text x="335.90" y="260.00" font-size="4.2" fill="#3c3c3c" stroke="#3c3c3c" stroke-width="0.1" >2</text>
<text x="337.90" y="270.40" font-size="6.8" fill="#3c3c3c" stroke="#3c3c3c" stroke-width="0.1" text-anchor="end" >0</text>
<text x="348.50" y="285.60" font-size="6.8" fill="#3c3c3c" stroke="#3c3c3c" stroke-width="0.1" text-anchor="middle" >0</text>
<text x="350.90" y="285.60" font-size="6.8" fill="#3c3c3c" stroke="#3c3c3c" stroke-width="0.1" textLength="6.8" lengthAdjust="spacingAndGlyphs" >10</text>
<text x="357.90" y="282.30" font-size="4.2" fill="#3c3c3c" stroke="#3c3c3c" stroke-width="0.1" >2</text>
<text x="366.70" y="285.60" font-size="6.8" fill="#3c3c3c" stroke="#3c3c3c" stroke-width="0.1" textLength="6.8" lengthAdjust="spacingAndGlyphs" >10</text>
<text x="373.70" y="282.30" font-size="4.2" fill="#3c3c3c" stroke="#3c3c3c" stroke-width="0.1" >3</text>
<text x="381.50" y="285.60" font-size="6.8" fill="#3c3c3c" stroke="#3c3c3c" stroke-width="0.1" textLength="6.8" lengthAdjust="spacingAndGlyphs" >10</text>
<text x="388.50" y="282.30" font-size="4.2" fill="#3c3c3c" stroke="#3c3c3c" stroke-width="0.1" >4</text>
<text x="395.10" y="285.60" font-size="6.8" fill="#3c3c3c" stroke="#3c3c3c" stroke-width="0.1" textLength="6.8" lengthAdjust="spacingAndGlyphs" >10</text>
<text x="402.10" y="282.30" font-size="4.2" fill="#3c3c3c" stroke="#3c3c3c" stroke-width="0.1" >5</text>
<text x="370.20" y="297.70" font-size="8.8" fill="#3c3c3c" stroke="#3c3c3c" stroke-width="0.1" text-anchor="middle" textLength="18.6" lengthAdjust="spacingAndGlyphs" >APC-A</text>
<text x="322.90" y="243.50" font-size="7.6" fill="#3c3c3c" stroke="#3c3c3c" stroke-width="0.1" text-anchor="middle" textLength="30" lengthAdjust="spacingAndGlyphs" transform="rotate(-90 322.90 243.50)" >Hoechst-A</text>
<ellipse cx="466.0" cy="238.0" rx="13.3" ry="15.2" fill="#e6e8f0" filter="url(#bl3)"/>
<ellipse cx="467.0" cy="238.0" rx="7.7" ry="10.4" fill="#d2d6e2" filter="url(#bl3)"/>
<g opacity="0.75"><rect x="458.5" y="222.6" width="1" height="1" fill="#b2b8d4"/><rect x="465.8" y="236.8" width="1" height="1" fill="#b2b8d4"/><rect x="474.3" y="229.4" width="1" height="1" fill="#c0c6cc"/><rect x="471.6" y="241.5" width="1" height="1" fill="#aeb4d0"/><rect x="451.1" y="225.6" width="1" height="1" fill="#b8c0b8"/><rect x="463.4" y="238.3" width="1" height="1" fill="#a8aecc"/><rect x="477.2" y="233.7" width="1" height="1" fill="#b4bac8"/><rect x="464.2" y="233.8" width="1" height="1" fill="#b8c0b8"/><rect x="479.5" y="251.9" width="1" height="1" fill="#bcc0d8"/><rect x="460.8" y="231.6" width="1" height="1" fill="#b4bac8"/><rect x="467.4" y="228.9" width="1" height="1" fill="#a8aecc"/><rect x="468.1" y="227.4" width="1" height="1" fill="#a8aecc"/><rect x="464.1" y="249.5" width="1" height="1" fill="#aeb4d0"/><rect x="462.0" y="222.9" width="1" height="1" fill="#a8aecc"/><rect x="474.1" y="228.1" width="1" height="1" fill="#b2b8d4"/><rect x="470.9" y="228.1" width="1" height="1" fill="#a8aecc"/><rect x="448.7" y="226.3" width="1" height="1" fill="#bcc0d8"/><rect x="458.0" y="246.9" width="1" height="1" fill="#c0c6cc"/><rect x="466.7" y="231.9" width="1" height="1" fill="#b4bac8"/><rect x="465.9" y="238.5" width="1" height="1" fill="#a8aecc"/><rect x="465.5" y="242.9" width="1" height="1" fill="#b8c0b8"/><rect x="467.1" y="223.4" width="1" height="1" fill="#a8aecc"/><rect x="472.7" y="224.7" width="1" height="1" fill="#b8c0b8"/><rect x="470.1" y="237.8" width="1" height="1" fill="#b8c0b8"/><rect x="468.7" y="227.9" width="1" height="1" fill="#b8c0b8"/><rect x="471.8" y="234.0" width="1" height="1" fill="#b2b8d4"/><rect x="457.8" y="235.6" width="1" height="1" fill="#b4bac8"/><rect x="469.8" y="251.3" width="1" height="1" fill="#bcc0d8"/><rect x="465.1" y="240.7" width="1" height="1" fill="#b4bac8"/><rect x="461.1" y="239.2" width="1" height="1" fill="#a8aecc"/><rect x="465.1" y="237.4" width="1" height="1" fill="#b4bac8"/><rect x="463.0" y="238.9" width="1" height="1" fill="#b8c0b8"/><rect x="464.4" y="240.4" width="1" height="1" fill="#b4bac8"/><rect x="452.2" y="229.4" width="1" height="1" fill="#b8c0b8"/><rect x="457.7" y="236.7" width="1" height="1" fill="#c0c6cc"/><rect x="467.5" y="243.5" width="1" height="1" fill="#b2b8d4"/><rect x="470.8" y="249.8" width="1" height="1" fill="#a8aecc"/><rect x="459.9" y="234.3" width="1" height="1" fill="#b8c0b8"/><rect x="461.8" y="237.5" width="1" height="1" fill="#b2b8d4"/><rect x="473.6" y="233.4" width="1" height="1" fill="#b8c0b8"/><rect x="474.2" y="245.4" width="1" height="1" fill="#b8c0b8"/><rect x="471.6" y="241.6" width="1" height="1" fill="#b2b8d4"/><rect x="461.0" y="246.4" width="1" height="1" fill="#b2b8d4"/><rect x="470.1" y="241.2" width="1" height="1" fill="#b8c0b8"/><rect x="471.7" y="230.8" width="1" height="1" fill="#c0c6cc"/><rect x="469.8" y="256.6" width="1" height="1" fill="#a8aecc"/><rect x="450.1" y="247.1" width="1" height="1" fill="#b8c0b8"/><rect x="457.6" y="231.6" width="1" height="1" fill="#bcc0d8"/><rect x="465.9" y="240.3" width="1" height="1" fill="#bcc0d8"/><rect x="473.2" y="237.7" width="1" height="1" fill="#b2b8d4"/><rect x="474.9" y="241.4" width="1" height="1" fill="#b8c0b8"/><rect x="463.7" y="228.7" width="1" height="1" fill="#b8c0b8"/><rect x="468.3" y="236.4" width="1" height="1" fill="#c0c6cc"/><rect x="455.4" y="223.4" width="1" height="1" fill="#aeb4d0"/><rect x="471.5" y="236.4" width="1" height="1" fill="#c0c6cc"/><rect x="466.3" y="241.6" width="1" height="1" fill="#aeb4d0"/><rect x="461.3" y="237.8" width="1" height="1" fill="#b8c0b8"/><rect x="476.3" y="256.4" width="1" height="1" fill="#aeb4d0"/><rect x="466.4" y="240.3" width="1" height="1" fill="#a8aecc"/><rect x="468.4" y="236.9" width="1" height="1" fill="#c0c6cc"/><rect x="477.6" y="229.0" width="1" height="1" fill="#b2b8d4"/><rect x="465.6" y="248.1" width="1" height="1" fill="#aeb4d0"/><rect x="453.1" y="218.5" width="1" height="1" fill="#b2b8d4"/><rect x="471.2" y="242.4" width="1" height="1" fill="#b2b8d4"/><rect x="476.3" y="233.3" width="1" height="1" fill="#a8aecc"/><rect x="459.3" y="233.2" width="1" height="1" fill="#aeb4d0"/><rect x="471.1" y="242.6" width="1" height="1" fill="#a8aecc"/><rect x="460.5" y="243.2" width="1" height="1" fill="#b4bac8"/><rect x="468.7" y="243.4" width="1" height="1" fill="#bcc0d8"/><rect x="479.3" y="228.9" width="1" height="1" fill="#b4bac8"/><rect x="465.0" y="232.6" width="1" height="1" fill="#b2b8d4"/><rect x="473.7" y="251.2" width="1" height="1" fill="#b2b8d4"/><rect x="479.5" y="231.2" width="1" height="1" fill="#aeb4d0"/><rect x="471.1" y="245.0" width="1" height="1" fill="#b2b8d4"/><rect x="472.5" y="234.3" width="1" height="1" fill="#b2b8d4"/><rect x="460.4" y="231.3" width="1" height="1" fill="#a8aecc"/><rect x="463.6" y="243.5" width="1" height="1" fill="#b2b8d4"/><rect x="463.2" y="234.6" width="1" height="1" fill="#bcc0d8"/><rect x="465.6" y="232.7" width="1" height="1" fill="#b4bac8"/><rect x="462.1" y="236.5" width="1" height="1" fill="#b8c0b8"/><rect x="470.5" y="245.1" width="1" height="1" fill="#bcc0d8"/><rect x="469.3" y="243.5" width="1" height="1" fill="#b8c0b8"/><rect x="462.2" y="252.5" width="1" height="1" fill="#a8aecc"/><rect x="459.6" y="238.4" width="1" height="1" fill="#b4bac8"/><rect x="481.4" y="253.3" width="1" height="1" fill="#b2b8d4"/><rect x="457.2" y="227.2" width="1" height="1" fill="#bcc0d8"/><rect x="453.0" y="232.1" width="1" height="1" fill="#b2b8d4"/><rect x="465.8" y="243.6" width="1" height="1" fill="#a8aecc"/><rect x="460.8" y="240.7" width="1" height="1" fill="#bcc0d8"/><rect x="469.0" y="236.3" width="1" height="1" fill="#a8aecc"/><rect x="462.2" y="240.5" width="1" height="1" fill="#b8c0b8"/><rect x="465.1" y="231.1" width="1" height="1" fill="#aeb4d0"/><rect x="479.3" y="239.5" width="1" height="1" fill="#a8aecc"/><rect x="458.1" y="237.4" width="1" height="1" fill="#b8c0b8"/><rect x="470.4" y="229.1" width="1" height="1" fill="#bcc0d8"/><rect x="464.7" y="239.9" width="1" height="1" fill="#b4bac8"/><rect x="467.9" y="248.7" width="1" height="1" fill="#bcc0d8"/><rect x="470.9" y="229.5" width="1" height="1" fill="#bcc0d8"/><rect x="464.8" y="232.6" width="1" height="1" fill="#b2b8d4"/><rect x="473.3" y="222.5" width="1" height="1" fill="#aeb4d0"/><rect x="460.1" y="238.2" width="1" height="1" fill="#bcc0d8"/><rect x="473.1" y="247.5" width="1" height="1" fill="#aeb4d0"/><rect x="469.7" y="227.7" width="1" height="1" fill="#bcc0d8"/><rect x="477.3" y="238.8" width="1" height="1" fill="#c0c6cc"/><rect x="456.1" y="245.3" width="1" height="1" fill="#b2b8d4"/><rect x="459.3" y="237.1" width="1" height="1" fill="#a8aecc"/><rect x="474.0" y="223.9" width="1" height="1" fill="#b4bac8"/><rect x="472.4" y="242.6" width="1" height="1" fill="#b8c0b8"/><rect x="451.3" y="240.5" width="1" height="1" fill="#a8aecc"/><rect x="466.1" y="248.8" width="1" height="1" fill="#a8aecc"/><rect x="477.1" y="241.0" width="1" height="1" fill="#c0c6cc"/><rect x="465.4" y="237.5" width="1" height="1" fill="#c0c6cc"/><rect x="483.6" y="228.9" width="1" height="1" fill="#b2b8d4"/><rect x="474.4" y="247.2" width="1" height="1" fill="#b8c0b8"/><rect x="473.8" y="221.8" width="1" height="1" fill="#b8c0b8"/><rect x="464.3" y="230.0" width="1" height="1" fill="#b8c0b8"/><rect x="470.9" y="233.8" width="1" height="1" fill="#b2b8d4"/><rect x="474.2" y="235.2" width="1" height="1" fill="#c0c6cc"/><rect x="479.1" y="240.4" width="1" height="1" fill="#bcc0d8"/><rect x="485.1" y="240.8" width="1" height="1" fill="#bcc0d8"/><rect x="462.7" y="234.5" width="1" height="1" fill="#a8aecc"/><rect x="466.0" y="253.5" width="1" height="1" fill="#b2b8d4"/><rect x="482.7" y="240.3" width="1" height="1" fill="#aeb4d0"/><rect x="466.5" y="239.5" width="1" height="1" fill="#c0c6cc"/><rect x="460.6" y="230.9" width="1" height="1" fill="#bcc0d8"/><rect x="465.0" y="234.3" width="1" height="1" fill="#b8c0b8"/><rect x="469.8" y="240.9" width="1" height="1" fill="#a8aecc"/><rect x="472.1" y="244.8" width="1" height="1" fill="#c0c6cc"/><rect x="466.3" y="234.0" width="1" height="1" fill="#b2b8d4"/><rect x="462.7" y="240.5" width="1" height="1" fill="#c0c6cc"/><rect x="466.7" y="244.0" width="1" height="1" fill="#aeb4d0"/><rect x="455.1" y="231.9" width="1" height="1" fill="#bcc0d8"/><rect x="467.3" y="237.5" width="1" height="1" fill="#aeb4d0"/><rect x="460.1" y="243.6" width="1" height="1" fill="#b8c0b8"/><rect x="464.4" y="236.6" width="1" height="1" fill="#b2b8d4"/><rect x="467.1" y="230.5" width="1" height="1" fill="#bcc0d8"/><rect x="472.2" y="226.7" width="1" height="1" fill="#b8c0b8"/><rect x="479.2" y="236.2" width="1" height="1" fill="#a8aecc"/><rect x="471.7" y="223.0" width="1" height="1" fill="#b2b8d4"/><rect x="464.1" y="242.2" width="1" height="1" fill="#aeb4d0"/><rect x="471.1" y="235.4" width="1" height="1" fill="#b4bac8"/><rect x="465.4" y="236.9" width="1" height="1" fill="#b2b8d4"/><rect x="463.3" y="237.4" width="1" height="1" fill="#b4bac8"/><rect x="469.3" y="249.9" width="1" height="1" fill="#bcc0d8"/><rect x="478.4" y="255.1" width="1" height="1" fill="#b8c0b8"/><rect x="474.1" y="237.9" width="1" height="1" fill="#b2b8d4"/><rect x="471.6" y="221.7" width="1" height="1" fill="#b2b8d4"/><rect x="476.3" y="240.6" width="1" height="1" fill="#a8aecc"/><rect x="474.9" y="232.2" width="1" height="1" fill="#aeb4d0"/><rect x="449.9" y="233.0" width="1" height="1" fill="#c0c6cc"/><rect x="469.0" y="240.5" width="1" height="1" fill="#b2b8d4"/><rect x="449.5" y="246.3" width="1" height="1" fill="#a8aecc"/><rect x="471.1" y="243.1" width="1" height="1" fill="#bcc0d8"/><rect x="473.2" y="245.7" width="1" height="1" fill="#c0c6cc"/><rect x="468.5" y="236.0" width="1" height="1" fill="#c0c6cc"/><rect x="461.9" y="237.0" width="1" height="1" fill="#b2b8d4"/><rect x="450.7" y="236.7" width="1" height="1" fill="#b4bac8"/><rect x="460.8" y="234.9" width="1" height="1" fill="#aeb4d0"/><rect x="473.9" y="243.5" width="1" height="1" fill="#b8c0b8"/><rect x="455.1" y="241.7" width="1" height="1" fill="#bcc0d8"/><rect x="463.1" y="233.4" width="1" height="1" fill="#aeb4d0"/><rect x="455.6" y="251.2" width="1" height="1" fill="#a8aecc"/><rect x="459.7" y="231.8" width="1" height="1" fill="#a8aecc"/><rect x="472.5" y="239.5" width="1" height="1" fill="#bcc0d8"/><rect x="458.8" y="237.4" width="1" height="1" fill="#c0c6cc"/><rect x="452.7" y="249.6" width="1" height="1" fill="#bcc0d8"/><rect x="469.5" y="233.3" width="1" height="1" fill="#c0c6cc"/><rect x="463.3" y="243.9" width="1" height="1" fill="#bcc0d8"/><rect x="462.4" y="251.9" width="1" height="1" fill="#bcc0d8"/><rect x="456.5" y="234.4" width="1" height="1" fill="#a8aecc"/><rect x="463.6" y="239.1" width="1" height="1" fill="#b4bac8"/><rect x="469.5" y="231.2" width="1" height="1" fill="#b8c0b8"/><rect x="470.1" y="241.8" width="1" height="1" fill="#aeb4d0"/><rect x="465.7" y="233.1" width="1" height="1" fill="#a8aecc"/><rect x="464.0" y="234.0" width="1" height="1" fill="#bcc0d8"/><rect x="455.3" y="227.1" width="1" height="1" fill="#b8c0b8"/><rect x="467.7" y="234.8" width="1" height="1" fill="#b8c0b8"/><rect x="465.5" y="223.8" width="1" height="1" fill="#b4bac8"/><rect x="464.8" y="249.8" width="1" height="1" fill="#aeb4d0"/><rect x="469.3" y="235.8" width="1" height="1" fill="#b8c0b8"/><rect x="472.0" y="243.2" width="1" height="1" fill="#c0c6cc"/><rect x="458.6" y="232.9" width="1" height="1" fill="#c0c6cc"/><rect x="474.4" y="251.2" width="1" height="1" fill="#a8aecc"/><rect x="473.0" y="229.8" width="1" height="1" fill="#b4bac8"/><rect x="472.7" y="227.6" width="1" height="1" fill="#a8aecc"/><rect x="465.0" y="231.1" width="1" height="1" fill="#b4bac8"/><rect x="456.2" y="236.2" width="1" height="1" fill="#aeb4d0"/><rect x="460.3" y="251.3" width="1" height="1" fill="#b8c0b8"/><rect x="473.2" y="237.5" width="1" height="1" fill="#a8aecc"/><rect x="468.5" y="244.5" width="1" height="1" fill="#bcc0d8"/><rect x="459.4" y="241.2" width="1" height="1" fill="#bcc0d8"/><rect x="480.1" y="247.9" width="1" height="1" fill="#a8aecc"/><rect x="475.9" y="235.8" width="1" height="1" fill="#bcc0d8"/><rect x="470.8" y="236.5" width="1" height="1" fill="#b4bac8"/><rect x="480.2" y="224.7" width="1" height="1" fill="#b2b8d4"/><rect x="475.1" y="241.2" width="1" height="1" fill="#b4bac8"/><rect x="463.2" y="247.9" width="1" height="1" fill="#a8aecc"/><rect x="457.2" y="236.9" width="1" height="1" fill="#aeb4d0"/><rect x="458.6" y="242.0" width="1" height="1" fill="#b2b8d4"/><rect x="460.3" y="233.6" width="1" height="1" fill="#b2b8d4"/><rect x="462.0" y="228.8" width="1" height="1" fill="#b2b8d4"/><rect x="458.7" y="243.3" width="1" height="1" fill="#aeb4d0"/><rect x="457.1" y="233.9" width="1" height="1" fill="#bcc0d8"/><rect x="474.3" y="235.9" width="1" height="1" fill="#b4bac8"/><rect x="467.7" y="220.1" width="1" height="1" fill="#c0c6cc"/><rect x="461.0" y="246.6" width="1" height="1" fill="#b8c0b8"/><rect x="471.8" y="242.4" width="1" height="1" fill="#a8aecc"/><rect x="479.6" y="235.9" width="1" height="1" fill="#c0c6cc"/><rect x="470.8" y="249.0" width="1" height="1" fill="#a8aecc"/><rect x="461.0" y="223.5" width="1" height="1" fill="#c0c6cc"/><rect x="471.9" y="232.3" width="1" height="1" fill="#bcc0d8"/><rect x="452.6" y="235.7" width="1" height="1" fill="#bcc0d8"/><rect x="461.3" y="237.8" width="1" height="1" fill="#bcc0d8"/><rect x="474.8" y="242.0" width="1" height="1" fill="#b2b8d4"/><rect x="451.9" y="259.3" width="1" height="1" fill="#aeb4d0"/><rect x="464.1" y="225.3" width="1" height="1" fill="#b2b8d4"/><rect x="467.5" y="231.0" width="1" height="1" fill="#aeb4d0"/><rect x="450.5" y="231.9" width="1" height="1" fill="#b4bac8"/><rect x="471.3" y="228.7" width="1" height="1" fill="#aeb4d0"/><rect x="470.5" y="239.0" width="1" height="1" fill="#b8c0b8"/><rect x="460.5" y="235.8" width="1" height="1" fill="#aeb4d0"/><rect x="473.0" y="231.8" width="1" height="1" fill="#bcc0d8"/><rect x="459.2" y="234.1" width="1" height="1" fill="#b2b8d4"/><rect x="471.4" y="246.0" width="1" height="1" fill="#c0c6cc"/><rect x="468.6" y="240.4" width="1" height="1" fill="#bcc0d8"/><rect x="474.1" y="234.9" width="1" height="1" fill="#b4bac8"/><rect x="455.9" y="228.1" width="1" height="1" fill="#b2b8d4"/><rect x="459.4" y="227.7" width="1" height="1" fill="#c0c6cc"/><rect x="460.9" y="249.9" width="1" height="1" fill="#a8aecc"/><rect x="465.7" y="240.1" width="1" height="1" fill="#aeb4d0"/><rect x="478.9" y="248.6" width="1" height="1" fill="#c0c6cc"/><rect x="470.4" y="240.1" width="1" height="1" fill="#c0c6cc"/><rect x="464.1" y="239.9" width="1" height="1" fill="#b4bac8"/><rect x="449.8" y="227.4" width="1" height="1" fill="#b4bac8"/><rect x="471.1" y="240.1" width="1" height="1" fill="#bcc0d8"/><rect x="482.3" y="243.3" width="1" height="1" fill="#b8c0b8"/><rect x="466.4" y="238.8" width="1" height="1" fill="#b8c0b8"/><rect x="468.5" y="231.5" width="1" height="1" fill="#c0c6cc"/><rect x="465.8" y="255.5" width="1" height="1" fill="#b2b8d4"/><rect x="466.3" y="246.3" width="1" height="1" fill="#aeb4d0"/><rect x="459.5" y="233.6" width="1" height="1" fill="#b4bac8"/><rect x="472.0" y="231.2" width="1" height="1" fill="#b8c0b8"/><rect x="468.1" y="235.4" width="1" height="1" fill="#bcc0d8"/><rect x="463.0" y="242.2" width="1" height="1" fill="#a8aecc"/><rect x="460.5" y="242.8" width="1" height="1" fill="#a8aecc"/><rect x="458.9" y="236.3" width="1" height="1" fill="#b4bac8"/><rect x="455.1" y="220.6" width="1" height="1" fill="#b4bac8"/><rect x="469.1" y="231.1" width="1" height="1" fill="#bcc0d8"/><rect x="459.7" y="244.1" width="1" height="1" fill="#a8aecc"/><rect x="466.2" y="240.2" width="1" height="1" fill="#aeb4d0"/><rect x="479.1" y="240.4" width="1" height="1" fill="#bcc0d8"/><rect x="465.1" y="234.4" width="1" height="1" fill="#a8aecc"/><rect x="453.6" y="233.9" width="1" height="1" fill="#c0c6cc"/><rect x="452.9" y="243.6" width="1" height="1" fill="#b8c0b8"/><rect x="466.4" y="246.0" width="1" height="1" fill="#bcc0d8"/><rect x="464.8" y="230.0" width="1" height="1" fill="#c0c6cc"/><rect x="470.7" y="257.9" width="1" height="1" fill="#c0c6cc"/><rect x="470.1" y="253.9" width="1" height="1" fill="#aeb4d0"/><rect x="473.8" y="247.6" width="1" height="1" fill="#a8aecc"/><rect x="455.0" y="249.3" width="1" height="1" fill="#dcdfe8"/><rect x="474.1" y="252.5" width="1" height="1" fill="#dcdfe8"/><rect x="454.1" y="257.1" width="1" height="1" fill="#dcdfe8"/><rect x="473.6" y="260.1" width="1" height="1" fill="#dcdfe8"/><rect x="461.3" y="250.6" width="1" height="1" fill="#dcdfe8"/><rect x="471.8" y="245.1" width="1" height="1" fill="#dcdfe8"/><rect x="463.2" y="251.6" width="1" height="1" fill="#dcdfe8"/><rect x="462.0" y="249.7" width="1" height="1" fill="#dcdfe8"/><rect x="477.1" y="253.9" width="1" height="1" fill="#dcdfe8"/><rect x="457.7" y="243.2" width="1" height="1" fill="#dcdfe8"/><rect x="463.7" y="256.8" width="1" height="1" fill="#dcdfe8"/><rect x="465.6" y="251.6" width="1" height="1" fill="#dcdfe8"/><rect x="477.0" y="247.4" width="1" height="1" fill="#dcdfe8"/><rect x="463.3" y="249.1" width="1" height="1" fill="#dcdfe8"/><rect x="462.2" y="250.5" width="1" height="1" fill="#dcdfe8"/><rect x="459.0" y="263.7" width="1" height="1" fill="#dcdfe8"/><rect x="456.2" y="256.3" width="1" height="1" fill="#dcdfe8"/><rect x="468.6" y="247.4" width="1" height="1" fill="#dcdfe8"/><rect x="454.2" y="246.9" width="1" height="1" fill="#dcdfe8"/><rect x="476.8" y="242.3" width="1" height="1" fill="#dcdfe8"/><rect x="466.8" y="258.1" width="1" height="1" fill="#dcdfe8"/><rect x="467.2" y="244.2" width="1" height="1" fill="#dcdfe8"/><rect x="464.6" y="252.2" width="1" height="1" fill="#dcdfe8"/><rect x="460.1" y="246.6" width="1" height="1" fill="#dcdfe8"/><rect x="472.1" y="253.0" width="1" height="1" fill="#dcdfe8"/><rect x="466.4" y="251.5" width="1" height="1" fill="#dcdfe8"/><rect x="461.2" y="257.6" width="1" height="1" fill="#dcdfe8"/><rect x="458.1" y="250.3" width="1" height="1" fill="#dcdfe8"/><rect x="459.0" y="247.5" width="1" height="1" fill="#dcdfe8"/><rect x="455.6" y="249.0" width="1" height="1" fill="#dcdfe8"/><rect x="463.2" y="249.5" width="1" height="1" fill="#dcdfe8"/><rect x="462.2" y="245.4" width="1" height="1" fill="#dcdfe8"/><rect x="448.3" y="242.6" width="1" height="1" fill="#dcdfe8"/><rect x="457.1" y="251.3" width="1" height="1" fill="#dcdfe8"/><rect x="452.1" y="253.1" width="1" height="1" fill="#dcdfe8"/><rect x="475.0" y="249.0" width="1" height="1" fill="#dcdfe8"/><rect x="444.2" y="246.6" width="1" height="1" fill="#dcdfe8"/><rect x="474.7" y="259.6" width="1" height="1" fill="#dcdfe8"/><rect x="452.2" y="242.3" width="1" height="1" fill="#dcdfe8"/><rect x="471.4" y="247.4" width="1" height="1" fill="#dcdfe8"/><rect x="454.9" y="237.7" width="1" height="1" fill="#dcdfe8"/><rect x="462.0" y="251.5" width="1" height="1" fill="#dcdfe8"/><rect x="456.5" y="262.4" width="1" height="1" fill="#dcdfe8"/><rect x="451.7" y="264.0" width="1" height="1" fill="#dcdfe8"/><rect x="450.1" y="257.9" width="1" height="1" fill="#dcdfe8"/><rect x="475.4" y="252.9" width="1" height="1" fill="#dcdfe8"/><rect x="465.0" y="260.2" width="1" height="1" fill="#dcdfe8"/><rect x="450.2" y="264.9" width="1" height="1" fill="#dcdfe8"/><rect x="455.3" y="254.9" width="1" height="1" fill="#dcdfe8"/><rect x="449.3" y="252.8" width="1" height="1" fill="#dcdfe8"/><rect x="469.7" y="245.9" width="1" height="1" fill="#dcdfe8"/><rect x="449.5" y="252.5" width="1" height="1" fill="#dcdfe8"/><rect x="466.7" y="261.6" width="1" height="1" fill="#dcdfe8"/><rect x="471.9" y="244.4" width="1" height="1" fill="#dcdfe8"/><rect x="457.2" y="253.3" width="1" height="1" fill="#dcdfe8"/><rect x="479.1" y="249.7" width="1" height="1" fill="#dcdfe8"/><rect x="457.8" y="251.7" width="1" height="1" fill="#dcdfe8"/><rect x="471.1" y="262.0" width="1" height="1" fill="#dcdfe8"/><rect x="463.6" y="257.6" width="1" height="1" fill="#dcdfe8"/><rect x="468.3" y="252.2" width="1" height="1" fill="#dcdfe8"/><rect x="460.7" y="255.2" width="1" height="1" fill="#dcdfe8"/><rect x="459.8" y="250.5" width="1" height="1" fill="#dcdfe8"/><rect x="458.9" y="246.6" width="1" height="1" fill="#dcdfe8"/><rect x="449.0" y="254.0" width="1" height="1" fill="#dcdfe8"/><rect x="476.8" y="253.3" width="1" height="1" fill="#dcdfe8"/><rect x="471.6" y="259.4" width="1" height="1" fill="#dcdfe8"/><rect x="461.5" y="250.0" width="1" height="1" fill="#dcdfe8"/><rect x="459.9" y="245.3" width="1" height="1" fill="#dcdfe8"/><rect x="463.7" y="261.4" width="1" height="1" fill="#dcdfe8"/><rect x="470.0" y="257.3" width="1" height="1" fill="#dcdfe8"/></g>
<ellipse cx="472.5" cy="239.2" rx="7.8" ry="8.7" fill="#cdd3cc" opacity="0.7" filter="url(#bl3)"/>
<ellipse cx="473.5" cy="239.2" rx="4.8" ry="5.7" fill="#b9bfa0" opacity="0.8" filter="url(#bl)"/>
<ellipse cx="473.5" cy="239.2" rx="3.0" ry="4.0" fill="#a0a048" opacity="0.75" filter="url(#bl)"/>
<rect x="468.2" y="259.8" width="16.1" height="11.3" fill="none" stroke="#aaa" stroke-width="0.7"/>
<ellipse cx="473.5" cy="265.2" rx="3.5" ry="4.0" fill="#c4c6a8" filter="url(#bl)"/>
<ellipse cx="473.5" cy="265.2" rx="2.0" ry="2.5" fill="#9a9a48" opacity="0.85" filter="url(#bl2)"/>
<rect x="439.2" y="213.2" width="60.2" height="60.0" fill="none" stroke="#111" stroke-width="1.4"/>
<path d="M436.6 267.2H439.20000000000005 M452.2 273.2V277.2 M437.4 263.0H439.20000000000005 M456.7 273.2V276.2 M437.4 260.6H439.20000000000005 M459.4 273.2V276.2 M437.4 258.8H439.20000000000005 M461.2 273.2V276.2 M437.4 257.5H439.20000000000005 M462.7 273.2V276.2 M437.4 256.4H439.20000000000005 M463.9 273.2V276.2 M437.4 255.5H439.20000000000005 M464.9 273.2V276.2 M437.4 254.6H439.20000000000005 M465.7 273.2V276.2 M437.4 253.9H439.20000000000005 M466.5 273.2V276.2 M436.6 253.3H439.20000000000005 M467.2 273.2V277.2 M437.4 249.1H439.20000000000005 M471.7 273.2V276.2 M437.4 246.7H439.20000000000005 M474.4 273.2V276.2 M437.4 244.9H439.20000000000005 M476.2 273.2V276.2 M437.4 243.6H439.20000000000005 M477.7 273.2V276.2 M437.4 242.5H439.20000000000005 M478.9 273.2V276.2 M437.4 241.6H439.20000000000005 M479.9 273.2V276.2 M437.4 240.7H439.20000000000005 M480.7 273.2V276.2 M437.4 240.0H439.20000000000005 M481.5 273.2V276.2 M436.6 239.4H439.20000000000005 M482.2 273.2V277.2 M437.4 235.2H439.20000000000005 M486.7 273.2V276.2 M437.4 232.8H439.20000000000005 M489.4 273.2V276.2 M437.4 231.0H439.20000000000005 M491.2 273.2V276.2 M437.4 229.7H439.20000000000005 M492.7 273.2V276.2 M437.4 228.6H439.20000000000005 M493.9 273.2V276.2 M437.4 227.7H439.20000000000005 M494.9 273.2V276.2 M437.4 226.8H439.20000000000005 M495.7 273.2V276.2 M437.4 226.1H439.20000000000005 M496.5 273.2V276.2 M436.6 225.5H439.20000000000005 M497.2 273.2V277.2 M437.4 221.3H439.20000000000005 M437.4 218.9H439.20000000000005 M437.4 217.1H439.20000000000005 M437.4 215.8H439.20000000000005 M441.2 273.2V276.2 M443.7 273.2V276.2 M446.2 273.2V276.2 M448.7 273.2V276.2 M451.2 273.2V276.2 M437.7 271.2H439.20000000000005 M437.7 269.2H439.20000000000005" stroke="#111" stroke-width="1.2" fill="none"/>
<text x="470.20" y="207.50" font-size="8.8" fill="#2e2e2e" stroke="#2e2e2e" stroke-width="0.1" text-anchor="middle" textLength="45.4" lengthAdjust="spacingAndGlyphs" >p1-4 shRNA</text>
<text x="476.70" y="258.40" font-size="8.8" fill="#222" stroke="#222" stroke-width="0.45" text-anchor="middle" textLength="19.8" lengthAdjust="spacingAndGlyphs" >17.2%</text>
<text x="431.20" y="221.20" font-size="6.8" fill="#3c3c3c" stroke="#3c3c3c" stroke-width="0.1" text-anchor="end" textLength="6.8" lengthAdjust="spacingAndGlyphs" >10</text>
<text x="431.60" y="217.90" font-size="4.2" fill="#3c3c3c" stroke="#3c3c3c" stroke-width="0.1" >5</text>
<text x="431.20" y="234.60" font-size="6.8" fill="#3c3c3c" stroke="#3c3c3c" stroke-width="0.1" text-anchor="end" textLength="6.8" lengthAdjust="spacingAndGlyphs" >10</text>
<text x="431.60" y="231.30" font-size="4.2" fill="#3c3c3c" stroke="#3c3c3c" stroke-width="0.1" >4</text>
<text x="431.20" y="248.30" font-size="6.8" fill="#3c3c3c" stroke="#3c3c3c" stroke-width="0.1" text-anchor="end" textLength="6.8" lengthAdjust="spacingAndGlyphs" >10</text>
<text x="431.60" y="245.00" font-size="4.2" fill="#3c3c3c" stroke="#3c3c3c" stroke-width="0.1" >3</text>
<text x="431.20" y="263.30" font-size="6.8" fill="#3c3c3c" stroke="#3c3c3c" stroke-width="0.1" text-anchor="end" textLength="6.8" lengthAdjust="spacingAndGlyphs" >10</text>
<text x="431.60" y="260.00" font-size="4.2" fill="#3c3c3c" stroke="#3c3c3c" stroke-width="0.1" >2</text>
<text x="433.60" y="270.40" font-size="6.8" fill="#3c3c3c" stroke="#3c3c3c" stroke-width="0.1" text-anchor="end" >0</text>
<text x="444.20" y="285.60" font-size="6.8" fill="#3c3c3c" stroke="#3c3c3c" stroke-width="0.1" text-anchor="middle" >0</text>
<text x="446.60" y="285.60" font-size="6.8" fill="#3c3c3c" stroke="#3c3c3c" stroke-width="0.1" textLength="6.8" lengthAdjust="spacingAndGlyphs" >10</text>
<text x="453.60" y="282.30" font-size="4.2" fill="#3c3c3c" stroke="#3c3c3c" stroke-width="0.1" >2</text>
<text x="462.40" y="285.60" font-size="6.8" fill="#3c3c3c" stroke="#3c3c3c" stroke-width="0.1" textLength="6.8" lengthAdjust="spacingAndGlyphs" >10</text>
<text x="469.40" y="282.30" font-size="4.2" fill="#3c3c3c" stroke="#3c3c3c" stroke-width="0.1" >3</text>
<text x="477.20" y="285.60" font-size="6.8" fill="#3c3c3c" stroke="#3c3c3c" stroke-width="0.1" textLength="6.8" lengthAdjust="spacingAndGlyphs" >10</text>
<text x="484.20" y="282.30" font-size="4.2" fill="#3c3c3c" stroke="#3c3c3c" stroke-width="0.1" >4</text>
<text x="490.80" y="285.60" font-size="6.8" fill="#3c3c3c" stroke="#3c3c3c" stroke-width="0.1" textLength="6.8" lengthAdjust="spacingAndGlyphs" >10</text>
<text x="497.80" y="282.30" font-size="4.2" fill="#3c3c3c" stroke="#3c3c3c" stroke-width="0.1" >5</text>
<text x="465.50" y="297.70" font-size="8.8" fill="#3c3c3c" stroke="#3c3c3c" stroke-width="0.1" text-anchor="middle" textLength="18.6" lengthAdjust="spacingAndGlyphs" >APC-A</text>
<text x="418.60" y="243.50" font-size="7.6" fill="#3c3c3c" stroke="#3c3c3c" stroke-width="0.1" text-anchor="middle" textLength="30" lengthAdjust="spacingAndGlyphs" transform="rotate(-90 418.60 243.50)" >Hoechst-A</text>
<text x="7.40" y="327.90" font-size="10.4" fill="#111" font-weight="bold" stroke="#111" stroke-width="0.45" >F</text>
<line x1="35.40" y1="334.00" x2="35.40" y2="421.80" stroke="#111" stroke-width="1.4" />
<line x1="32.40" y1="421.20" x2="35.40" y2="421.20" stroke="#111" stroke-width="1.3" />
<text x="29.60" y="424.10" font-size="8.2" fill="#4a4a4a" stroke="#4a4a4a" stroke-width="0.1" text-anchor="end" >0</text>
<line x1="32.40" y1="403.88" x2="35.40" y2="403.88" stroke="#111" stroke-width="1.3" />
<text x="29.60" y="406.78" font-size="8.2" fill="#4a4a4a" stroke="#4a4a4a" stroke-width="0.1" text-anchor="end" >2</text>
<line x1="32.40" y1="386.56" x2="35.40" y2="386.56" stroke="#111" stroke-width="1.3" />
<text x="29.60" y="389.46" font-size="8.2" fill="#4a4a4a" stroke="#4a4a4a" stroke-width="0.1" text-anchor="end" >4</text>
<line x1="32.40" y1="369.24" x2="35.40" y2="369.24" stroke="#111" stroke-width="1.3" />
<text x="29.60" y="372.14" font-size="8.2" fill="#4a4a4a" stroke="#4a4a4a" stroke-width="0.1" text-anchor="end" >6</text>
<line x1="32.40" y1="351.92" x2="35.40" y2="351.92" stroke="#111" stroke-width="1.3" />
<text x="29.60" y="354.82" font-size="8.2" fill="#4a4a4a" stroke="#4a4a4a" stroke-width="0.1" text-anchor="end" >8</text>
<line x1="32.40" y1="334.60" x2="35.40" y2="334.60" stroke="#111" stroke-width="1.3" />
<text x="29.60" y="337.50" font-size="8.2" fill="#4a4a4a" stroke="#4a4a4a" stroke-width="0.1" text-anchor="end" >10</text>
<line x1="34.80" y1="421.20" x2="164.50" y2="421.20" stroke="#111" stroke-width="1.5" />
<text x="14.80" y="376.80" font-size="8.2" fill="#4a4a4a" stroke="#4a4a4a" stroke-width="0.1" text-anchor="middle" textLength="51.6" lengthAdjust="spacingAndGlyphs" transform="rotate(-90 14.80 376.80)" >Fold expansion</text>
<line x1="44.85" y1="348.02" x2="44.85" y2="351.92" stroke="#111" stroke-width="1.3" />
<line x1="42.65" y1="348.02" x2="47.05" y2="348.02" stroke="#111" stroke-width="1.4" />
<rect x="40.75" y="351.92" width="8.20" height="69.28" fill="#2c4a88" />
<line x1="44.85" y1="421.20" x2="44.85" y2="423.80" stroke="#111" stroke-width="1.3" />
<text x="47.85" y="429.00" font-size="8.1" fill="#4a4a4a" stroke="#4a4a4a" stroke-width="0.1" text-anchor="end" transform="rotate(-45 47.85 429.00)" >ctrl</text>
<line x1="58.68" y1="347.16" x2="58.68" y2="351.05" stroke="#111" stroke-width="1.3" />
<line x1="56.48" y1="347.16" x2="60.88" y2="347.16" stroke="#111" stroke-width="1.4" />
<rect x="54.58" y="351.05" width="8.20" height="70.15" fill="#b01030" />
<line x1="58.68" y1="421.20" x2="58.68" y2="423.80" stroke="#111" stroke-width="1.3" />
<text x="61.68" y="429.00" font-size="8.1" fill="#4a4a4a" stroke="#4a4a4a" stroke-width="0.1" text-anchor="end" transform="rotate(-45 61.68 429.00)" >ctrl+glycine</text>
<line x1="72.51" y1="342.83" x2="72.51" y2="348.46" stroke="#111" stroke-width="1.3" />
<line x1="70.31" y1="342.83" x2="74.71" y2="342.83" stroke="#111" stroke-width="1.4" />
<rect x="68.41" y="348.46" width="8.20" height="72.74" fill="#6aaa3c" />
<line x1="72.51" y1="421.20" x2="72.51" y2="423.80" stroke="#111" stroke-width="1.3" />
<text x="75.51" y="429.00" font-size="8.1" fill="#4a4a4a" stroke="#4a4a4a" stroke-width="0.1" text-anchor="end" transform="rotate(-45 75.51 429.00)" >ctrl+serine</text>
<line x1="86.34" y1="364.91" x2="86.34" y2="368.37" stroke="#111" stroke-width="1.3" />
<line x1="84.14" y1="364.91" x2="88.54" y2="364.91" stroke="#111" stroke-width="1.4" />
<rect x="82.24" y="368.37" width="8.20" height="52.83" fill="#4a1f60" />
<line x1="86.34" y1="421.20" x2="86.34" y2="423.80" stroke="#111" stroke-width="1.3" />
<text x="89.34" y="429.00" font-size="8.1" fill="#4a4a4a" stroke="#4a4a4a" stroke-width="0.1" text-anchor="end" transform="rotate(-45 89.34 429.00)" >p1-3shRNA</text>
<line x1="100.17" y1="353.22" x2="100.17" y2="356.25" stroke="#111" stroke-width="1.3" />
<line x1="97.97" y1="353.22" x2="102.37" y2="353.22" stroke="#111" stroke-width="1.4" />
<rect x="96.07" y="356.25" width="8.20" height="64.95" fill="#e58f1e" />
<line x1="100.17" y1="421.20" x2="100.17" y2="423.80" stroke="#111" stroke-width="1.3" />
<text x="103.17" y="429.00" font-size="8.1" fill="#4a4a4a" stroke="#4a4a4a" stroke-width="0.1" text-anchor="end" transform="rotate(-45 103.17 429.00)" >p1-3shRNA+glycine</text>
<line x1="114.00" y1="350.62" x2="114.00" y2="353.22" stroke="#111" stroke-width="1.3" />
<line x1="111.80" y1="350.62" x2="116.20" y2="350.62" stroke="#111" stroke-width="1.4" />
<rect x="109.90" y="353.22" width="8.20" height="67.98" fill="#2e6a4e" />
<line x1="114.00" y1="421.20" x2="114.00" y2="423.80" stroke="#111" stroke-width="1.3" />
<text x="117.00" y="429.00" font-size="8.1" fill="#4a4a4a" stroke="#4a4a4a" stroke-width="0.1" text-anchor="end" transform="rotate(-45 117.00 429.00)" >p1-3shRNA+serine</text>
<line x1="127.83" y1="375.30" x2="127.83" y2="379.63" stroke="#111" stroke-width="1.3" />
<line x1="125.63" y1="375.30" x2="130.03" y2="375.30" stroke="#111" stroke-width="1.4" />
<rect x="123.73" y="379.63" width="8.20" height="41.57" fill="#9a88c8" />
<line x1="127.83" y1="421.20" x2="127.83" y2="423.80" stroke="#111" stroke-width="1.3" />
<text x="130.83" y="429.00" font-size="8.1" fill="#4a4a4a" stroke="#4a4a4a" stroke-width="0.1" text-anchor="end" transform="rotate(-45 130.83 429.00)" >p1-4shRNA</text>
<line x1="141.66" y1="356.68" x2="141.66" y2="360.58" stroke="#111" stroke-width="1.3" />
<line x1="139.46" y1="356.68" x2="143.86" y2="356.68" stroke="#111" stroke-width="1.4" />
<rect x="137.56" y="360.58" width="8.20" height="60.62" fill="#62a6dc" />
<line x1="141.66" y1="421.20" x2="141.66" y2="423.80" stroke="#111" stroke-width="1.3" />
<text x="144.66" y="429.00" font-size="8.1" fill="#4a4a4a" stroke="#4a4a4a" stroke-width="0.1" text-anchor="end" transform="rotate(-45 144.66 429.00)" >p1-4shRNA+glycine</text>
<line x1="155.49" y1="347.59" x2="155.49" y2="354.34" stroke="#111" stroke-width="1.3" />
<line x1="153.29" y1="347.59" x2="157.69" y2="347.59" stroke="#111" stroke-width="1.4" />
<rect x="151.39" y="354.34" width="8.20" height="66.86" fill="#cc1070" />
<line x1="155.49" y1="421.20" x2="155.49" y2="423.80" stroke="#111" stroke-width="1.3" />
<text x="158.49" y="429.00" font-size="8.1" fill="#4a4a4a" stroke="#4a4a4a" stroke-width="0.1" text-anchor="end" transform="rotate(-45 158.49 429.00)" >p1-4shRNA+serine</text>
<line x1="78.80" y1="342.70" x2="117.90" y2="342.70" stroke="#1a1a1a" stroke-width="1.3" />
<line x1="78.80" y1="349.70" x2="99.20" y2="349.70" stroke="#1a1a1a" stroke-width="1.3" />
<line x1="126.60" y1="341.50" x2="157.40" y2="341.50" stroke="#1a1a1a" stroke-width="1.3" />
<line x1="126.60" y1="350.20" x2="146.80" y2="350.20" stroke="#1a1a1a" stroke-width="1.3" />
<circle cx="98.4" cy="338.9" r="1.0" fill="#222"/>
<circle cx="89.2" cy="345.5" r="1.0" fill="#222"/>
<circle cx="141.6" cy="337.5" r="1.0" fill="#222"/>
<circle cx="136.4" cy="346.7" r="1.0" fill="#222"/>
<text x="183.80" y="328.00" font-size="11" fill="#111" font-weight="bold" stroke="#111" stroke-width="0.45" >G</text>
<text x="268.90" y="354.60" font-size="9" fill="#3c3c3c" stroke="#3c3c3c" stroke-width="0.1" text-anchor="middle" textLength="45.1" lengthAdjust="spacingAndGlyphs" >hPhospho1</text>
<line x1="225.90" y1="359.80" x2="225.90" y2="421.90" stroke="#111" stroke-width="1.4" />
<line x1="223.00" y1="421.30" x2="225.90" y2="421.30" stroke="#111" stroke-width="1.3" />
<text x="220.60" y="424.20" font-size="8.4" fill="#4a4a4a" stroke="#4a4a4a" stroke-width="0.1" text-anchor="end" textLength="11.4" lengthAdjust="spacingAndGlyphs" >0.0</text>
<line x1="223.00" y1="401.55" x2="225.90" y2="401.55" stroke="#111" stroke-width="1.3" />
<text x="220.60" y="404.45" font-size="8.4" fill="#4a4a4a" stroke="#4a4a4a" stroke-width="0.1" text-anchor="end" textLength="11.4" lengthAdjust="spacingAndGlyphs" >0.5</text>
<line x1="223.00" y1="381.80" x2="225.90" y2="381.80" stroke="#111" stroke-width="1.3" />
<text x="220.60" y="384.70" font-size="8.4" fill="#4a4a4a" stroke="#4a4a4a" stroke-width="0.1" text-anchor="end" textLength="11.4" lengthAdjust="spacingAndGlyphs" >1.0</text>
<line x1="223.00" y1="362.05" x2="225.90" y2="362.05" stroke="#111" stroke-width="1.3" />
<text x="220.60" y="364.95" font-size="8.4" fill="#4a4a4a" stroke="#4a4a4a" stroke-width="0.1" text-anchor="end" textLength="11.4" lengthAdjust="spacingAndGlyphs" >1.5</text>
<line x1="225.30" y1="421.30" x2="314.80" y2="421.30" stroke="#111" stroke-width="1.5" />
<text x="192.50" y="389.40" font-size="8.9" fill="#4a4a4a" stroke="#4a4a4a" stroke-width="0.1" text-anchor="middle" textLength="50" lengthAdjust="spacingAndGlyphs" transform="rotate(-90 192.50 389.40)" >Relative mRNA</text>
<text x="202.60" y="391.20" font-size="8.9" fill="#4a4a4a" stroke="#4a4a4a" stroke-width="0.1" text-anchor="middle" textLength="35" lengthAdjust="spacingAndGlyphs" transform="rotate(-90 202.60 391.20)" >expression</text>
<rect x="234.85" y="381.80" width="16.90" height="39.50" fill="#2c4a88" />
<line x1="243.30" y1="421.30" x2="243.30" y2="424.00" stroke="#111" stroke-width="1.3" />
<text x="243.30" y="434.70" font-size="8.2" fill="#4a4a4a" stroke="#4a4a4a" stroke-width="0.1" text-anchor="middle" >ctrl</text>
<line x1="269.80" y1="395.62" x2="269.80" y2="396.81" stroke="#111" stroke-width="1.3" />
<line x1="267.30" y1="395.62" x2="272.30" y2="395.62" stroke="#111" stroke-width="1.4" />
<rect x="261.35" y="396.81" width="16.90" height="24.49" fill="#b01030" />
<line x1="269.80" y1="421.30" x2="269.80" y2="424.00" stroke="#111" stroke-width="1.3" />
<text x="269.80" y="434.70" font-size="8.2" fill="#4a4a4a" stroke="#4a4a4a" stroke-width="0.1" text-anchor="middle" >p1-3</text>
<line x1="296.00" y1="413.40" x2="296.00" y2="413.80" stroke="#111" stroke-width="1.3" />
<line x1="293.50" y1="413.40" x2="298.50" y2="413.40" stroke="#111" stroke-width="1.4" />
<rect x="287.55" y="413.80" width="16.90" height="7.50" fill="#6aaa3c" />
<line x1="296.00" y1="421.30" x2="296.00" y2="424.00" stroke="#111" stroke-width="1.3" />
<text x="296.00" y="434.70" font-size="8.2" fill="#4a4a4a" stroke="#4a4a4a" stroke-width="0.1" text-anchor="middle" >p1-4</text>
<line x1="233.20" y1="364.00" x2="303.80" y2="364.00" stroke="#1a1a1a" stroke-width="1.3" />
<line x1="233.20" y1="372.90" x2="272.30" y2="372.90" stroke="#1a1a1a" stroke-width="1.3" />
<circle cx="263.00" cy="360.5" r="1.0" fill="#2a2a2a"/>
<circle cx="247.00" cy="369.3" r="1.0" fill="#2a2a2a"/>
<circle cx="266.50" cy="360.5" r="1.0" fill="#2a2a2a"/>
<circle cx="250.50" cy="369.3" r="1.0" fill="#2a2a2a"/>
<circle cx="270.00" cy="360.5" r="1.0" fill="#2a2a2a"/>
<circle cx="254.00" cy="369.3" r="1.0" fill="#2a2a2a"/>
<circle cx="273.50" cy="360.5" r="1.0" fill="#2a2a2a"/>
<circle cx="257.50" cy="369.3" r="1.0" fill="#2a2a2a"/>
<rect x="0" y="0" width="520" height="1.2" fill="#000"/>
<rect x="0" y="0" width="1.2" height="489" fill="#000"/>
<rect x="518.3" y="0" width="1.7" height="489" fill="#000"/>
<rect x="0" y="487.3" width="520" height="1.7" fill="#000"/>
</svg>
</body></html>
